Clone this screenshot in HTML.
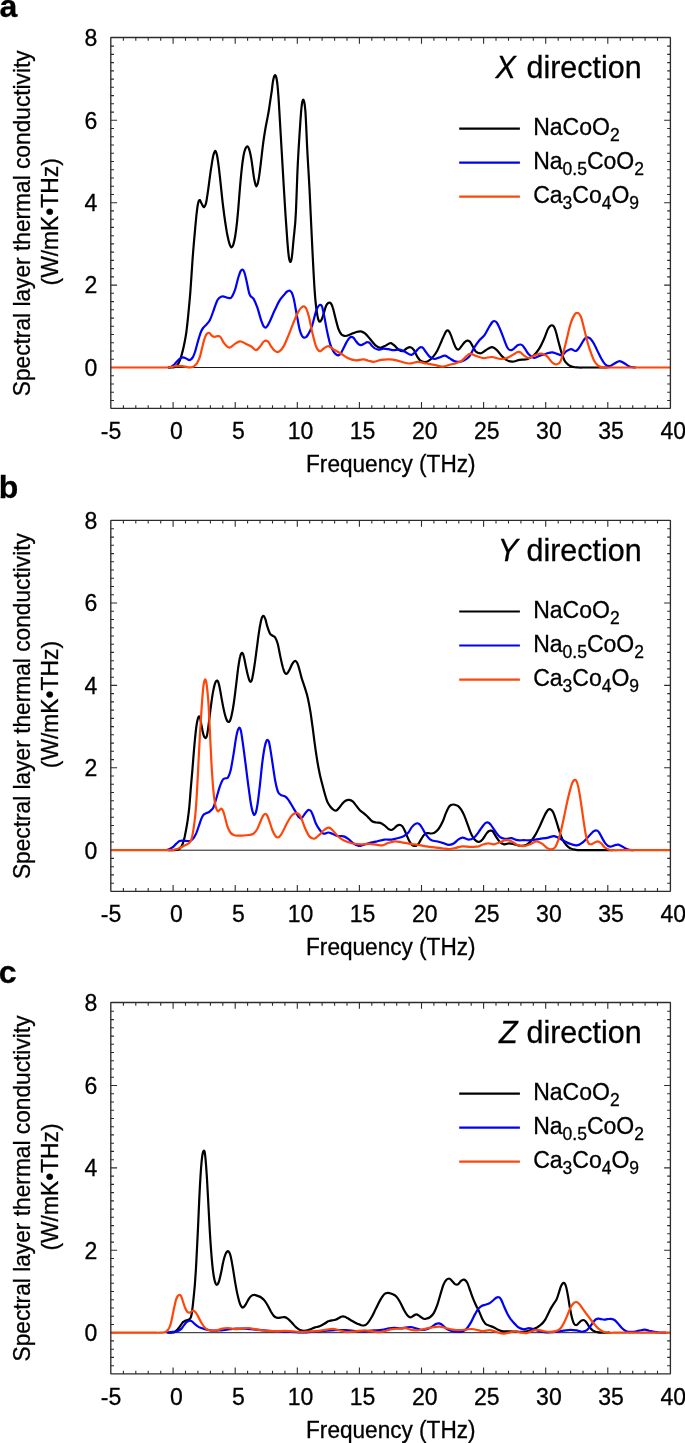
<!DOCTYPE html>
<html lang="en"><head><meta charset="utf-8"><title>Spectral layer thermal conductivity</title>
<style>
html,body{margin:0;padding:0;background:#fff}
body{width:685px;height:1443px;overflow:hidden}
svg{display:block;will-change:transform;opacity:0.9999}
text{font-family:"Liberation Sans",sans-serif;fill:#000;stroke:#000;stroke-width:0.3px}
.tk{font-size:24px}
.ax{font-size:23.5px}
.lg{font-size:23px}
.sb{font-size:17.5px}
.tt{font-size:31.4px}
.pl{font-size:32px;font-weight:bold}
.cv{fill:none;stroke-width:2.2;stroke-linejoin:round;stroke-linecap:butt}
</style></head>
<body>
<svg width="685" height="1443" viewBox="0 0 685 1443">
<rect width="685" height="1443" fill="#fff"/>
<g id="panel-a">
<line x1="110.8" y1="367.5" x2="670.4" y2="367.5" stroke="#000" stroke-width="0.9"/>
<path d="M123.4 408.4v-3.2M123.4 37.5v3.2M135.8 408.4v-3.2M135.8 37.5v3.2M148.2 408.4v-3.2M148.2 37.5v3.2M160.7 408.4v-3.2M160.7 37.5v3.2M173.1 408.4v-6.3M173.1 37.5v6.3M185.5 408.4v-3.2M185.5 37.5v3.2M197.9 408.4v-3.2M197.9 37.5v3.2M210.4 408.4v-3.2M210.4 37.5v3.2M222.8 408.4v-3.2M222.8 37.5v3.2M235.2 408.4v-6.3M235.2 37.5v6.3M247.6 408.4v-3.2M247.6 37.5v3.2M260 408.4v-3.2M260 37.5v3.2M272.5 408.4v-3.2M272.5 37.5v3.2M284.9 408.4v-3.2M284.9 37.5v3.2M297.3 408.4v-6.3M297.3 37.5v6.3M309.7 408.4v-3.2M309.7 37.5v3.2M322.1 408.4v-3.2M322.1 37.5v3.2M334.6 408.4v-3.2M334.6 37.5v3.2M347 408.4v-3.2M347 37.5v3.2M359.4 408.4v-6.3M359.4 37.5v6.3M371.8 408.4v-3.2M371.8 37.5v3.2M384.3 408.4v-3.2M384.3 37.5v3.2M396.7 408.4v-3.2M396.7 37.5v3.2M409.1 408.4v-3.2M409.1 37.5v3.2M421.5 408.4v-6.3M421.5 37.5v6.3M433.9 408.4v-3.2M433.9 37.5v3.2M446.4 408.4v-3.2M446.4 37.5v3.2M458.8 408.4v-3.2M458.8 37.5v3.2M471.2 408.4v-3.2M471.2 37.5v3.2M483.6 408.4v-6.3M483.6 37.5v6.3M496 408.4v-3.2M496 37.5v3.2M508.5 408.4v-3.2M508.5 37.5v3.2M520.9 408.4v-3.2M520.9 37.5v3.2M533.3 408.4v-3.2M533.3 37.5v3.2M545.7 408.4v-6.3M545.7 37.5v6.3M558.2 408.4v-3.2M558.2 37.5v3.2M570.6 408.4v-3.2M570.6 37.5v3.2M583 408.4v-3.2M583 37.5v3.2M595.4 408.4v-3.2M595.4 37.5v3.2M607.8 408.4v-6.3M607.8 37.5v6.3M620.3 408.4v-3.2M620.3 37.5v3.2M632.7 408.4v-3.2M632.7 37.5v3.2M645.1 408.4v-3.2M645.1 37.5v3.2M657.5 408.4v-3.2M657.5 37.5v3.2M110.8 400.5h3.2M670.4 400.5h-3.2M110.8 392.2h3.2M670.4 392.2h-3.2M110.8 384h3.2M670.4 384h-3.2M110.8 375.7h3.2M670.4 375.7h-3.2M110.8 367.5h6.3M670.4 367.5h-6.3M110.8 359.3h3.2M670.4 359.3h-3.2M110.8 351h3.2M670.4 351h-3.2M110.8 342.8h3.2M670.4 342.8h-3.2M110.8 334.5h3.2M670.4 334.5h-3.2M110.8 326.3h3.2M670.4 326.3h-3.2M110.8 318.1h3.2M670.4 318.1h-3.2M110.8 309.8h3.2M670.4 309.8h-3.2M110.8 301.6h3.2M670.4 301.6h-3.2M110.8 293.3h3.2M670.4 293.3h-3.2M110.8 285.1h6.3M670.4 285.1h-6.3M110.8 276.9h3.2M670.4 276.9h-3.2M110.8 268.6h3.2M670.4 268.6h-3.2M110.8 260.4h3.2M670.4 260.4h-3.2M110.8 252.1h3.2M670.4 252.1h-3.2M110.8 243.9h3.2M670.4 243.9h-3.2M110.8 235.7h3.2M670.4 235.7h-3.2M110.8 227.4h3.2M670.4 227.4h-3.2M110.8 219.2h3.2M670.4 219.2h-3.2M110.8 210.9h3.2M670.4 210.9h-3.2M110.8 202.7h6.3M670.4 202.7h-6.3M110.8 194.5h3.2M670.4 194.5h-3.2M110.8 186.2h3.2M670.4 186.2h-3.2M110.8 178h3.2M670.4 178h-3.2M110.8 169.7h3.2M670.4 169.7h-3.2M110.8 161.5h3.2M670.4 161.5h-3.2M110.8 153.3h3.2M670.4 153.3h-3.2M110.8 145h3.2M670.4 145h-3.2M110.8 136.8h3.2M670.4 136.8h-3.2M110.8 128.5h3.2M670.4 128.5h-3.2M110.8 120.3h6.3M670.4 120.3h-6.3M110.8 112.1h3.2M670.4 112.1h-3.2M110.8 103.8h3.2M670.4 103.8h-3.2M110.8 95.6h3.2M670.4 95.6h-3.2M110.8 87.3h3.2M670.4 87.3h-3.2M110.8 79.1h3.2M670.4 79.1h-3.2M110.8 70.9h3.2M670.4 70.9h-3.2M110.8 62.6h3.2M670.4 62.6h-3.2M110.8 54.4h3.2M670.4 54.4h-3.2M110.8 46.1h3.2M670.4 46.1h-3.2" stroke="#2c2c2c" stroke-width="1.1" fill="none"/>
<clipPath id="cp0"><rect x="110.8" y="37.5" width="559.6" height="370.9"/></clipPath>
<g clip-path="url(#cp0)" transform="translate(0 0.3)">
<path class="cv" stroke="#000" d="M168 367.2C169.3 367.2 170.7 367.2 172 367.1C173.2 367 174.3 367.3 175.5 366.5C176.5 365.8 177.6 364.9 178.6 362.9C179.3 361.6 180 359.9 180.7 357.8C181.4 355.8 182 353.3 182.7 350.6C183.4 347.9 184 344.9 184.7 341.4C185.3 338.4 185.8 335.7 186.4 331.5C187 326.8 187.7 320.3 188.3 314C189 307.3 189.6 300.8 190.3 292.4C191 283.1 191.8 269.9 192.5 260C193.3 248.8 194.2 239.1 195 230C195.7 222.7 196.3 215.1 197 210C197.4 206.9 197.8 204.2 198.2 202.5C198.6 200.8 199 200.2 199.4 199.8C200.1 199.2 200.8 202 201.5 203C202.4 204.3 203.3 207.4 204.2 206.8C204.8 206.4 205.4 205.5 206 203C206.5 201 206.9 197.7 207.4 194.8C208.7 186.9 209.9 175.1 211.2 167.3C212 162.6 212.7 157.3 213.5 154.5C214.1 152.4 214.6 150.6 215.2 150.6C215.8 150.6 216.4 152.3 217 155C217.6 157.6 218.1 161.7 218.7 166C219.3 170.6 219.9 176.5 220.5 182C221.1 187.8 221.8 194.5 222.4 200C222.9 204.7 223.5 208.9 224 213C224.5 216.5 224.9 219.9 225.4 223C226.1 227.4 226.7 231.6 227.4 235C228.1 238.5 228.8 241.5 229.5 243.5C230.2 245.5 230.9 247.1 231.6 247C232.2 246.9 232.8 245.9 233.4 244C233.9 242.3 234.5 240.1 235 237C235.4 234.5 235.9 231.5 236.3 228C236.6 225.3 237 222.3 237.3 219C237.6 215.7 238 211.9 238.3 208C238.8 201.8 239.4 194.2 239.9 188C240.5 181 241.1 174.4 241.7 169C242.3 163.3 243 158.5 243.6 155C244.3 151.3 244.9 149.5 245.6 148C246.2 146.7 246.8 145.9 247.4 146.1C248 146.3 248.6 147.2 249.2 149C249.8 150.9 250.5 154 251.1 157.3C252.2 163.1 253.3 174.6 254.4 179.8C254.8 181.7 255.2 183.5 255.6 184.5C255.9 185.4 256.3 186.1 256.6 186C257 185.9 257.4 184.5 257.8 183C258.3 181.1 258.8 178.1 259.3 174.8C259.8 171.5 260.3 167.1 260.8 163C261.6 156.8 262.3 149.3 263.1 143.5C263.9 137.2 264.8 131.9 265.6 127.2C266.1 124.2 266.7 121.8 267.2 119C267.7 116.4 268.2 114 268.7 111C269.3 107.6 269.8 103.3 270.4 99.5C270.9 96.2 271.4 93.2 271.9 89.7C272.2 86.9 272.6 83.2 273 81C273.3 79.3 273.6 78 273.9 77C274.1 76.3 274.3 75.9 274.5 75.5C274.7 75.2 274.9 74.9 275.1 74.9C275.3 74.9 275.5 75.2 275.7 75.6C276 76.1 276.2 76.7 276.5 78C276.8 79.6 277.2 81.8 277.5 85C277.9 88.8 278.3 94.1 278.7 100C279.1 105.9 279.5 113.7 279.9 120.5C280.5 130.7 281.1 140.8 281.7 151C282.3 161.7 283 172.7 283.6 183.3C284.2 193.9 284.9 204.8 285.5 214.5C286.1 223.7 286.7 232.6 287.3 240C287.8 246.6 288.4 253.4 288.9 257C289.4 260.1 289.8 261.6 290.3 261.7C290.8 261.8 291.3 260.2 291.8 257C292.4 253.4 292.9 246.1 293.5 240C294.3 231 295.2 228.3 296 210C296.4 200.5 296.9 185.2 297.3 174.8C298.1 154.8 299 142.5 299.8 129.9C300.4 121.3 300.9 112.5 301.5 107.4C301.8 104.4 302.2 102.1 302.5 100.8C302.8 99.7 303 99.2 303.3 99.2C303.6 99.2 303.9 100 304.2 101.5C304.6 103.3 304.9 105.5 305.3 109.9C306 117.9 306.6 137.2 307.3 149.9C308.1 165.8 309 177.4 309.8 194.8C310 199.7 310.3 205 310.5 210C311.1 222.9 311.7 235.6 312.3 247.4C313.1 263.7 314 281.2 314.8 292.4C315.6 303.6 316.5 310.1 317.3 314.8C317.8 317.5 318.2 319.1 318.7 320.2C319.1 321.2 319.6 321.4 320 321.4C320.5 321.4 321 320.5 321.5 319.5C322 318.5 322.6 316.7 323.1 315.2C324.1 312.3 325.1 307.6 326.1 305.5C326.7 304.2 327.4 303.3 328 302.8C328.5 302.4 329.1 302.2 329.6 302.3C330.1 302.4 330.7 302.7 331.2 303.5C331.7 304.3 332.2 305.5 332.7 307C333.6 309.5 334.4 313.9 335.3 317.2C336.3 321.1 337.4 325.7 338.4 328.5C339.4 331.3 340.5 333 341.5 334.2C342.5 335.3 343.5 335.4 344.5 335.6C346.6 336.1 348.6 334.7 350.7 334C352.4 333.4 354.1 332.4 355.8 331.9C357.5 331.4 359.2 330.8 360.9 331.1C362.3 331.4 363.6 332 365 333C366.7 334.3 368.4 336.7 370.1 338.7C371.8 340.7 373.5 343.3 375.2 344.8C376.9 346.3 378.6 347.4 380.3 347.5C382 347.6 383.7 346.1 385.4 345.4C387.2 344.6 389.1 342.4 390.9 342.8C392.1 343.1 393.4 344.4 394.6 345.4C396 346.6 397.3 348.6 398.7 349.5C400.1 350.4 401.4 351.2 402.8 350.9C404.2 350.6 405.5 348.6 406.9 347.9C408.1 347.3 409.3 346.5 410.5 346.9C411.7 347.2 412.8 348.2 414 349.9C415 351.4 416.1 354.4 417.1 356.1C418.1 357.8 419.1 359.1 420.1 360.1C421.6 361.5 423.1 361.8 424.6 361.8C426.2 361.8 427.7 361.2 429.3 360.1C430.7 359.2 432 357.8 433.4 356.1C434.8 354.4 436.1 352.5 437.5 349.9C438.9 347.3 440.2 343.8 441.6 340.7C442.6 338.4 443.7 335.6 444.7 333.6C445.2 332.6 445.8 331.4 446.3 330.8C446.8 330.3 447.2 330 447.7 330.1C448.2 330.2 448.7 330.6 449.2 331.3C449.7 332.1 450.3 333.4 450.8 334.6C451.7 336.7 452.6 339.7 453.5 342C454.4 344.2 455.2 346.7 456.1 347.9C456.8 348.9 457.5 349.3 458.2 349.3C459.6 349.4 460.9 346.4 462.3 344.8C463.3 343.7 464.3 342 465.3 341.3C466.1 340.7 467 340.2 467.8 340.3C468.5 340.4 469.3 340.7 470 341.5C470.5 342.1 471 343 471.5 343.8C472.8 345.9 474.2 349.3 475.5 350.9C477.1 352.7 478.6 353 480.2 353C482.1 353 483.9 350.9 485.8 349.9C488 348.8 490.1 346.5 492.3 346.9C493.9 347.2 495.4 348.5 497 349.9C498.7 351.5 500.4 354.4 502.1 356.1C503.8 357.8 505.5 359.2 507.2 360.1C508.9 361 510.6 361.3 512.3 361.4C514.7 361.5 517.1 359.9 519.5 359.5C522.2 359 525 359.8 527.7 358.7C529.7 357.9 531.8 356.9 533.8 355C535.5 353.4 537.2 351.6 538.9 348.9C540.6 346.2 542.3 342.6 544 338.7C545.4 335.6 546.7 330.9 548.1 328.5C548.8 327.2 549.6 326.2 550.3 325.6C550.9 325.1 551.6 324.8 552.2 325C552.8 325.1 553.3 325.4 553.9 326.3C554.4 327 554.8 328.2 555.3 329.5C556.3 332.2 557.3 337 558.3 340.7C559.3 344.5 560.4 348.8 561.4 352C562.4 355.2 563.5 358.1 564.5 360.1C565.8 362.7 567.2 363.5 568.5 364.6C569.9 365.7 571.2 366.1 572.6 366.5C574.7 367.2 576.7 367.1 578.8 367.2C580.7 367.3 582.6 367.2 584.4 367.2C586.3 367.2 588.2 367.2 590.1 367.2C592 367.2 593.8 367.2 595.7 367.2C597.6 367.2 599.5 367.2 601.4 367.2C603.2 367.2 605.1 367.2 607 367.2"/>
<path class="cv" stroke="#0000f5" d="M167.8 367.2C168.7 367.1 169.5 367.2 170.4 366.9C171.8 366.4 173.1 365.2 174.5 363.9C175.5 362.9 176.6 361.4 177.6 360.4C178.6 359.4 179.7 358.4 180.7 357.8C181.4 357.4 182 357.2 182.7 357.1C183.7 357 184.8 357.6 185.8 358C187.2 358.5 188.5 360.3 189.9 359.8C190.9 359.4 191.9 358.6 192.9 356.8C193.6 355.5 194.3 353.8 195 351.7C195.7 349.7 196.3 346.9 197 344.5C197.7 342.1 198.3 339.6 199 337.4C199.7 335.1 200.4 332.8 201.1 331.2C201.8 329.6 202.4 328.7 203.1 327.7C204.1 326.3 205 325.7 206 324.6C207.3 323.1 208.6 322.3 209.9 319.8C211.2 317.3 212.4 313.2 213.7 309.8C214.9 306.5 216.2 302.1 217.4 299.9C218.3 298.4 219.1 297.6 220 297C220.8 296.4 221.6 296.2 222.4 296.1C224.1 295.8 225.7 297.2 227.4 297.4C228.6 297.5 229.9 298.6 231.1 297.4C232.4 296.2 233.6 293.5 234.9 289.9C236.1 286.4 237.4 280 238.6 276.2C239.3 274.2 239.9 272 240.6 270.8C241.2 269.8 241.8 269.1 242.4 269.2C243 269.3 243.6 270 244.2 271.5C244.8 273.1 245.5 276 246.1 278.6C247.2 283 248.3 290.2 249.4 293.6C250.8 297.9 252.2 296.1 253.6 298.6C254.9 300.9 256.1 303.8 257.4 307.4C258.6 310.9 259.9 316.3 261.1 319.8C261.9 322 262.6 324.2 263.4 325.5C264 326.5 264.7 327.2 265.3 327.3C266 327.4 266.8 326.5 267.5 325.5C268.3 324.5 269 322.7 269.8 321.1C271.5 317.7 273.1 313.3 274.8 309.8C276.5 306.3 278.1 302.6 279.8 299.9C281.5 297.2 283.1 295.4 284.8 293.6C285.7 292.6 286.6 291.5 287.5 291C288.3 290.6 289 290.1 289.8 290.4C290.5 290.7 291.1 291.1 291.8 292.5C292.4 293.7 292.9 295.3 293.5 297.4C294.6 301.5 295.7 309.2 296.8 314.8C297.8 319.9 298.8 326.2 299.8 329.8C300.5 332.4 301.3 334.2 302 335.5C302.7 336.6 303.3 337.1 304 337.3C304.8 337.5 305.5 337.1 306.3 336.5C307 335.9 307.8 334.8 308.5 333.6C309.8 331.5 311 328.6 312.3 324.8C313.5 321.1 314.8 314.5 316 311.1C316.7 309.1 317.5 307.3 318.2 306.2C318.8 305.3 319.4 304.7 320 304.6C320.7 304.5 321.3 304.3 322 306C322.7 307.7 323.4 311.9 324.1 315.2C325.1 320.1 326.2 326.7 327.2 331.5C328.2 336.2 329.2 340.6 330.2 343.8C331.2 347.1 332.3 349.2 333.3 350.9C334.2 352.4 335.1 353.3 336 354C336.8 354.6 337.6 355.1 338.4 355C339.1 354.9 339.8 354.4 340.5 353.5C341.2 352.7 341.8 351.1 342.5 349.9C343.9 347.4 345.2 344.1 346.6 341.8C347.6 340.2 348.5 338.3 349.5 337.5C350.2 336.9 351 336.5 351.7 336.6C352.4 336.7 353.1 337.1 353.8 337.8C354.5 338.5 355.1 339.8 355.8 340.7C356.7 341.9 357.6 343.1 358.5 343.8C359.3 344.4 360.1 344.8 360.9 344.8C361.9 344.9 363 344 364 343.5C365.1 343 366.3 341.7 367.4 341.8C368.3 341.8 369.1 342.2 370 343C370.7 343.7 371.4 345 372.1 345.8C374.1 348.1 376.2 349 378.2 349.3C379.9 349.6 381.7 348.4 383.4 348.3C385.1 348.2 386.8 348.6 388.5 348.9C390.2 349.2 391.9 349.8 393.6 349.9C395.6 350 397.7 349 399.7 349.3C401.7 349.7 403.8 351.1 405.8 352C407.7 352.9 409.7 355.1 411.6 354.6C413.1 354.2 414.6 352.4 416.1 350.9C417.1 350 418 348.5 419 347.8C419.7 347.3 420.5 346.8 421.2 346.9C421.9 346.9 422.6 347.3 423.3 348C424 348.7 424.6 350 425.3 350.9C426.6 352.8 428 354.8 429.3 356.1C431 357.7 432.7 358.5 434.4 358.7C436.1 358.9 437.9 357.6 439.6 357.1C441.4 356.5 443.3 355.1 445.1 355.4C446.7 355.7 448.2 357.2 449.8 358.1C451.2 359 452.7 360.2 454.1 360.8C455.5 361.4 456.8 361.6 458.2 361.6C460.2 361.6 462.3 361.2 464.3 360.1C466 359.2 467.7 358.3 469.4 356.1C471.1 353.9 472.8 349.6 474.5 346.9C476.2 344.2 477.9 341.8 479.6 339.7C481.3 337.7 483 336.9 484.7 334.6C486.4 332.2 488.2 328.1 489.9 325.4C490.7 324.1 491.5 322.6 492.3 321.8C493 321.1 493.6 320.7 494.3 320.7C495 320.7 495.8 321.2 496.5 322C497.3 322.9 498.2 324.7 499 326.4C500.4 329.2 501.7 333.2 503.1 336.6C504.5 340 505.8 344.6 507.2 346.9C507.9 348 508.5 348.9 509.2 349.4C509.8 349.8 510.3 349.9 510.9 349.9C511.6 349.9 512.3 349.4 513 349C513.8 348.5 514.6 347.6 515.4 346.9C516.3 346.2 517.1 345.2 518 344.8C518.8 344.4 519.7 344.1 520.5 344.2C521.2 344.3 521.9 344.6 522.6 345.2C523.3 345.8 523.9 347 524.6 347.9C526 349.8 527.3 352.5 528.7 354C530.4 355.9 532.1 357.1 533.8 357.5C535.8 357.9 537.9 356.1 539.9 355.4C542 354.7 544 354 546.1 353.4C548.1 352.8 550.2 351.9 552.2 352C553.9 352.1 555.6 353.1 557.3 353.6C558.9 354.1 560.4 355.5 562 355C563.5 354.5 565 351.9 566.5 350.9C568 349.9 569.5 349.1 571 348.9C572.8 348.7 574.5 351.5 576.3 350.5C577.8 349.7 579.3 347.1 580.8 344.8C581.8 343.3 582.8 341 583.8 339.7C584.5 338.7 585.3 337.9 586 337.5C586.6 337.1 587.3 336.9 587.9 337C588.7 337.1 589.5 337.6 590.3 338.3C591.2 339.1 592.1 340.4 593 341.8C594.4 343.9 595.7 347.2 597.1 349.9C598.5 352.6 599.8 355.7 601.2 358.1C602.6 360.5 603.9 362.9 605.3 364.2C606.7 365.5 608 365.9 609.4 365.9C611.1 365.9 612.8 364 614.5 363.2C616.2 362.4 617.9 360.8 619.6 360.8C621.3 360.8 623 362.2 624.7 363.2C626.1 364 627.4 365.3 628.8 365.9C630.5 366.7 632.2 366.9 633.9 367.1C634.6 367.2 635.3 367.2 636 367.2"/>
<path class="cv" stroke="#ff4608" d="M110.8 367.2C112.6 367.2 114.4 367.2 116.3 367.2C118.1 367.2 119.9 367.2 121.7 367.2C123.6 367.2 125.4 367.2 127.2 367.2C129 367.2 130.8 367.2 132.7 367.2C134.5 367.2 136.3 367.2 138.1 367.2C140 367.2 141.8 367.2 143.6 367.2C145.4 367.2 147.2 367.2 149.1 367.2C150.9 367.2 152.7 367.2 154.5 367.2C156.4 367.2 158.2 367.2 160 367.2C162.8 367.2 165.6 367.3 168.4 367C169.9 366.8 171.5 366.6 173 366.3C174.5 366.1 176.1 365.6 177.6 365.5C179.6 365.4 181.7 365.8 183.7 366C186.1 366.3 188.5 367.5 190.9 367C191.9 366.8 192.9 366.7 193.9 366C194.9 365.3 196 364.6 197 362.9C198 361.2 199.1 359.3 200.1 355.8C200.8 353.5 201.4 350.3 202.1 347.6C202.8 344.8 203.5 341.6 204.2 339.4C204.9 337.3 205.5 335.4 206.2 334.3C206.7 333.5 207.1 333.2 207.6 332.9C208 332.6 208.4 332.4 208.8 332.5C209.2 332.6 209.6 332.8 210 333.2C210.4 333.6 210.9 334.4 211.3 334.8C212.2 335.7 213 336.2 213.9 336.5C215.1 336.8 216.2 335.8 217.4 335.8C218.3 335.8 219.1 335.5 220 336.2C221.2 337.2 222.5 340.6 223.7 342.3C225.6 344.9 227.5 347.1 229.4 347.3C231.2 347.5 233.1 344.7 234.9 343.6C236.6 342.6 238.2 341.3 239.9 341.1C242 340.9 244 342.7 246.1 343.6C247.8 344.3 249.4 345 251.1 346C252.8 347 254.4 350 256.1 349.8C257.8 349.6 259.4 346.8 261.1 344.8C262 343.7 262.9 341.9 263.8 341.2C264.6 340.6 265.3 340.2 266.1 340.3C266.9 340.4 267.7 340.9 268.5 341.8C269.4 342.8 270.2 344.7 271.1 346C272.2 347.6 273.4 349.2 274.5 350.2C275.6 351.1 276.7 351.9 277.8 351.8C278.8 351.7 279.7 351 280.7 350C281.7 349 282.6 347.6 283.6 346C285.3 343.2 286.9 338.8 288.6 334.8C290.2 330.9 291.9 326.2 293.5 322.3C295.2 318.3 296.8 313.9 298.5 311.1C299.5 309.4 300.5 308 301.5 307.2C302.3 306.5 303.2 305.8 304 306.1C304.7 306.3 305.5 306.8 306.2 308.2C307 309.6 307.7 312.1 308.5 314.8C309.8 319.3 311 327 312.3 332.3C313.5 337.4 314.8 342.9 316 346C317.3 349.2 318.5 350.5 319.8 351C321.2 351.5 322.7 348.8 324.1 347.9C325.5 347.1 326.8 345.8 328.2 345.8C329.9 345.8 331.6 347.9 333.3 348.9C335.7 350.3 338 351.5 340.4 353C342.8 354.5 345.2 356.5 347.6 357.7C350.3 359 353.1 359.9 355.8 360.1C358.3 360.3 360.8 358.9 363.3 359.1C365 359.3 366.7 359.9 368.4 360.4C370.1 360.8 371.8 361.5 373.5 361.6C376.1 361.7 378.7 359.9 381.3 359.5C384 359.1 386.8 359 389.5 359.1C391.9 359.2 394.2 359.6 396.6 360.1C399 360.6 401.4 361.6 403.8 362.2C405.5 362.6 407.2 363.1 408.9 363.2C412 363.4 415 361.5 418.1 361.6C420.8 361.7 423.6 362.7 426.3 363.2C429 363.7 431.7 364.1 434.4 364.6C437.1 365.1 439.9 366.4 442.6 366.3C445.3 366.2 448.1 364.9 450.8 364.2C452.6 363.7 454.3 363.4 456.1 362.8C457.8 362.2 459.5 361.9 461.2 360.8C462.6 359.9 463.9 358.4 465.3 357.1C466.2 356.3 467.1 355.1 468 354.5C468.8 354 469.6 353.7 470.4 353.6C472.1 353.4 473.8 354.8 475.5 355.4C477.9 356.2 480.3 357.4 482.7 357.7C485.8 358.1 488.8 356.5 491.9 356.7C495 356.9 498 358.8 501.1 358.7C503.5 358.6 505.8 358.1 508.2 357.1C510.3 356.3 512.3 354.9 514.4 353.6C515.2 353.1 516 352.3 516.8 352C517.5 351.7 518.2 351.5 518.9 351.6C519.5 351.7 520.2 351.9 520.8 352.3C521.4 352.7 522 353.5 522.6 354C524.6 355.8 526.7 357.5 528.7 357.7C530.7 357.9 532.8 355.7 534.8 355C537.2 354.2 539.6 352.9 542 353.4C543.7 353.8 545.4 354.6 547.1 356.1C548.8 357.6 550.5 360.8 552.2 362.2C553.6 363.3 554.9 364.4 556.3 364.2C557.7 364 559 364 560.4 361.2C561.4 359.1 562.4 355.5 563.4 352C564.4 348.4 565.5 343.8 566.5 339.7C567.9 334.3 569.2 327.6 570.6 323.4C572 319.1 573.3 316.1 574.7 314.2C575.1 313.6 575.6 313.1 576 312.8C576.4 312.5 576.9 312.5 577.3 312.5C577.8 312.5 578.3 312.7 578.8 313.2C579.5 313.8 580.1 314.6 580.8 316.2C581.8 318.6 582.9 323.4 583.9 327.4C584.9 331.3 585.9 336 586.9 339.7C587.9 343.5 589 346.8 590 349.9C591.3 353.9 592.7 357.5 594 360.1C595.4 362.7 596.7 364.1 598.1 365.3C599.8 366.8 601.5 366.7 603.2 367.1C605.5 367.6 607.7 367.2 610 367.2C611.7 367.2 613.4 367.2 615 367.2C616.7 367.2 618.4 367.2 620.1 367.2C621.7 367.2 623.4 367.2 625.1 367.2C626.8 367.2 628.5 367.2 630.1 367.2C631.8 367.2 633.5 367.2 635.2 367.2C636.8 367.2 638.5 367.2 640.2 367.2C641.9 367.2 643.6 367.2 645.2 367.2C646.9 367.2 648.6 367.2 650.3 367.2C651.9 367.2 653.6 367.2 655.3 367.2C657 367.2 658.7 367.2 660.3 367.2C662 367.2 663.7 367.2 665.4 367.2C667 367.2 668.7 367.2 670.4 367.2"/>
</g>
<rect x="110.8" y="37.5" width="559.6" height="370.9" rx="0.3" fill="none" stroke="#2c2c2c" stroke-width="1.35"/>
<text class="tk" transform="translate(97.4 375.8) scale(0.96 1)" text-anchor="end">0</text>
<text class="tk" transform="translate(97.4 293.4) scale(0.96 1)" text-anchor="end">2</text>
<text class="tk" transform="translate(97.4 211) scale(0.96 1)" text-anchor="end">4</text>
<text class="tk" transform="translate(97.4 128.6) scale(0.96 1)" text-anchor="end">6</text>
<text class="tk" transform="translate(97.4 46.2) scale(0.96 1)" text-anchor="end">8</text>
<text class="tk" transform="translate(111 439.1) scale(0.96 1)" text-anchor="middle">-5</text>
<text class="tk" transform="translate(176.3 439.1) scale(0.96 1)" text-anchor="middle">0</text>
<text class="tk" transform="translate(238.4 439.1) scale(0.96 1)" text-anchor="middle">5</text>
<text class="tk" transform="translate(300.5 439.1) scale(0.96 1)" text-anchor="middle">10</text>
<text class="tk" transform="translate(362.6 439.1) scale(0.96 1)" text-anchor="middle">15</text>
<text class="tk" transform="translate(424.7 439.1) scale(0.96 1)" text-anchor="middle">20</text>
<text class="tk" transform="translate(486.8 439.1) scale(0.96 1)" text-anchor="middle">25</text>
<text class="tk" transform="translate(548.9 439.1) scale(0.96 1)" text-anchor="middle">30</text>
<text class="tk" transform="translate(611 439.1) scale(0.96 1)" text-anchor="middle">35</text>
<text class="tk" transform="translate(673.2 439.1) scale(0.96 1)" text-anchor="middle">40</text>
<text class="ax" transform="translate(390.8 472.3) scale(0.962 1)" text-anchor="middle">Frequency (THz)</text>
<text class="ax" transform="translate(29.5 223.3) rotate(-90) scale(0.967 1)" text-anchor="middle">Spectral layer thermal conductivity</text>
<text class="ax" transform="translate(57.6 221.8) rotate(-90) scale(0.972 1)" text-anchor="middle">(W/mK•THz)</text>
<text class="tt" transform="translate(641.6 77.8) scale(0.97 1)" text-anchor="end"><tspan font-style="italic">X</tspan><tspan dx="2.2"> direction</tspan></text>
<line x1="459.2" y1="128.6" x2="519.9" y2="128.6" stroke="#000" stroke-width="2.2"/>
<line x1="459.2" y1="162.6" x2="519.9" y2="162.6" stroke="#0000f5" stroke-width="2.2"/>
<line x1="459.2" y1="196.7" x2="519.9" y2="196.7" stroke="#ff4608" stroke-width="2.2"/>
<text class="lg" x="533.2" y="134.7">NaCoO<tspan class="sb" dy="6.3">2</tspan></text>
<text class="lg" x="533.2" y="168.7">Na<tspan class="sb" dy="6.3">0.5</tspan><tspan dy="-6.3">CoO</tspan><tspan class="sb" dy="6.3">2</tspan></text>
<text class="lg" x="533.2" y="202.8">Ca<tspan class="sb" dy="6.3">3</tspan><tspan dy="-6.3">Co</tspan><tspan class="sb" dy="6.3">4</tspan><tspan dy="-6.3">O</tspan><tspan class="sb" dy="6.3">9</tspan></text>
<text class="pl" x="-0.6" y="17.3">a</text>
</g>
<g id="panel-b">
<line x1="110.8" y1="850.2" x2="670.4" y2="850.2" stroke="#000" stroke-width="0.9"/>
<path d="M123.4 891.3v-3.2M123.4 520.4v3.2M135.8 891.3v-3.2M135.8 520.4v3.2M148.2 891.3v-3.2M148.2 520.4v3.2M160.7 891.3v-3.2M160.7 520.4v3.2M173.1 891.3v-6.3M173.1 520.4v6.3M185.5 891.3v-3.2M185.5 520.4v3.2M197.9 891.3v-3.2M197.9 520.4v3.2M210.4 891.3v-3.2M210.4 520.4v3.2M222.8 891.3v-3.2M222.8 520.4v3.2M235.2 891.3v-6.3M235.2 520.4v6.3M247.6 891.3v-3.2M247.6 520.4v3.2M260 891.3v-3.2M260 520.4v3.2M272.5 891.3v-3.2M272.5 520.4v3.2M284.9 891.3v-3.2M284.9 520.4v3.2M297.3 891.3v-6.3M297.3 520.4v6.3M309.7 891.3v-3.2M309.7 520.4v3.2M322.1 891.3v-3.2M322.1 520.4v3.2M334.6 891.3v-3.2M334.6 520.4v3.2M347 891.3v-3.2M347 520.4v3.2M359.4 891.3v-6.3M359.4 520.4v6.3M371.8 891.3v-3.2M371.8 520.4v3.2M384.3 891.3v-3.2M384.3 520.4v3.2M396.7 891.3v-3.2M396.7 520.4v3.2M409.1 891.3v-3.2M409.1 520.4v3.2M421.5 891.3v-6.3M421.5 520.4v6.3M433.9 891.3v-3.2M433.9 520.4v3.2M446.4 891.3v-3.2M446.4 520.4v3.2M458.8 891.3v-3.2M458.8 520.4v3.2M471.2 891.3v-3.2M471.2 520.4v3.2M483.6 891.3v-6.3M483.6 520.4v6.3M496 891.3v-3.2M496 520.4v3.2M508.5 891.3v-3.2M508.5 520.4v3.2M520.9 891.3v-3.2M520.9 520.4v3.2M533.3 891.3v-3.2M533.3 520.4v3.2M545.7 891.3v-6.3M545.7 520.4v6.3M558.2 891.3v-3.2M558.2 520.4v3.2M570.6 891.3v-3.2M570.6 520.4v3.2M583 891.3v-3.2M583 520.4v3.2M595.4 891.3v-3.2M595.4 520.4v3.2M607.8 891.3v-6.3M607.8 520.4v6.3M620.3 891.3v-3.2M620.3 520.4v3.2M632.7 891.3v-3.2M632.7 520.4v3.2M645.1 891.3v-3.2M645.1 520.4v3.2M657.5 891.3v-3.2M657.5 520.4v3.2M110.8 883.2h3.2M670.4 883.2h-3.2M110.8 874.9h3.2M670.4 874.9h-3.2M110.8 866.7h3.2M670.4 866.7h-3.2M110.8 858.4h3.2M670.4 858.4h-3.2M110.8 850.2h6.3M670.4 850.2h-6.3M110.8 842h3.2M670.4 842h-3.2M110.8 833.7h3.2M670.4 833.7h-3.2M110.8 825.5h3.2M670.4 825.5h-3.2M110.8 817.2h3.2M670.4 817.2h-3.2M110.8 809h3.2M670.4 809h-3.2M110.8 800.8h3.2M670.4 800.8h-3.2M110.8 792.5h3.2M670.4 792.5h-3.2M110.8 784.3h3.2M670.4 784.3h-3.2M110.8 776h3.2M670.4 776h-3.2M110.8 767.8h6.3M670.4 767.8h-6.3M110.8 759.6h3.2M670.4 759.6h-3.2M110.8 751.3h3.2M670.4 751.3h-3.2M110.8 743.1h3.2M670.4 743.1h-3.2M110.8 734.8h3.2M670.4 734.8h-3.2M110.8 726.6h3.2M670.4 726.6h-3.2M110.8 718.4h3.2M670.4 718.4h-3.2M110.8 710.1h3.2M670.4 710.1h-3.2M110.8 701.9h3.2M670.4 701.9h-3.2M110.8 693.6h3.2M670.4 693.6h-3.2M110.8 685.4h6.3M670.4 685.4h-6.3M110.8 677.2h3.2M670.4 677.2h-3.2M110.8 668.9h3.2M670.4 668.9h-3.2M110.8 660.7h3.2M670.4 660.7h-3.2M110.8 652.4h3.2M670.4 652.4h-3.2M110.8 644.2h3.2M670.4 644.2h-3.2M110.8 636h3.2M670.4 636h-3.2M110.8 627.7h3.2M670.4 627.7h-3.2M110.8 619.5h3.2M670.4 619.5h-3.2M110.8 611.2h3.2M670.4 611.2h-3.2M110.8 603h6.3M670.4 603h-6.3M110.8 594.8h3.2M670.4 594.8h-3.2M110.8 586.5h3.2M670.4 586.5h-3.2M110.8 578.3h3.2M670.4 578.3h-3.2M110.8 570h3.2M670.4 570h-3.2M110.8 561.8h3.2M670.4 561.8h-3.2M110.8 553.6h3.2M670.4 553.6h-3.2M110.8 545.3h3.2M670.4 545.3h-3.2M110.8 537.1h3.2M670.4 537.1h-3.2M110.8 528.8h3.2M670.4 528.8h-3.2" stroke="#2c2c2c" stroke-width="1.1" fill="none"/>
<clipPath id="cp1"><rect x="110.8" y="520.4" width="559.6" height="370.9"/></clipPath>
<g clip-path="url(#cp1)" transform="translate(0 0.2)">
<path class="cv" stroke="#000" d="M168 850C169.3 850 170.7 850 172 850C173.3 850 174.7 850 176 849.7C177.2 849.5 178.4 849.8 179.6 848.6C180.6 847.6 181.7 846.6 182.7 843.7C183.4 841.8 184 839.5 184.7 836.5C185.2 834.1 185.8 831.3 186.3 828.3C186.8 825.5 187.3 822.6 187.8 819.1C188.3 815.6 188.8 812.3 189.3 807C189.7 802.4 190.2 795.8 190.6 790.5C191.2 782.7 191.9 776.1 192.5 768.5C193.1 760.9 193.8 751.8 194.4 744.9C195.2 736.5 195.9 728.8 196.7 724C197.1 721.3 197.6 719.3 198 718C198.4 716.8 198.8 715.9 199.2 716.1C199.6 716.2 199.9 717 200.3 718.5C200.7 719.9 201 722.8 201.4 724.8C202.1 728.4 202.7 732.1 203.4 734.3C203.8 735.6 204.2 736.6 204.6 737.2C205 737.7 205.3 738 205.7 737.8C206.1 737.6 206.4 737.3 206.8 736C207.2 734.7 207.5 732.1 207.9 729.8C208.7 724.5 209.6 716 210.4 709.8C211.2 703.6 212.1 697 212.9 692.4C213.6 688.7 214.2 685.6 214.9 683.6C215.3 682.4 215.7 681.5 216.1 681C216.5 680.5 216.8 680.2 217.2 680.4C217.6 680.6 217.9 681 218.3 682C218.7 683 219 684.5 219.4 686.1C220.2 689.7 221.1 695.5 221.9 699.9C222.7 704.3 223.6 708.9 224.4 712.3C225.1 715.3 225.9 718 226.6 719.6C227 720.5 227.4 721 227.8 721.4C228.2 721.7 228.5 721.9 228.9 721.8C229.3 721.6 229.7 721.2 230.1 720.3C230.5 719.3 231 717.8 231.4 716.1C232.2 712.8 233.1 707.9 233.9 702.3C234.7 696.7 235.6 689.1 236.4 682.4C237.1 677 237.7 670.7 238.4 666.2C239 662.4 239.5 658.9 240.1 656.6C240.4 655.3 240.8 654.2 241.1 653.6C241.4 653 241.8 652.6 242.1 652.7C242.4 652.8 242.8 653.2 243.1 654C243.4 654.8 243.8 656.1 244.1 657.4C244.8 660 245.4 664.3 246.1 667.4C246.8 670.5 247.4 673.7 248.1 676.1C248.5 677.7 249 679.3 249.4 680.2C249.8 681 250.2 681.6 250.6 681.6C251 681.6 251.4 681.2 251.8 680C252.2 678.9 252.5 676.8 252.9 674.9C253.6 671.4 254.2 667 254.9 662.4C255.6 657.8 256.2 652.4 256.9 647.4C257.6 642.4 258.2 636.9 258.9 632.5C259.5 628.3 260.2 624.4 260.8 621.6C261.2 619.7 261.7 618 262.1 617C262.5 616.1 262.9 615.7 263.3 615.7C263.6 615.7 264 616 264.3 616.5C264.6 617 265 617.8 265.3 618.7C266 620.5 266.6 624 267.3 626.2C268.1 628.9 269 631.4 269.8 633C270.8 634.9 271.8 634.8 272.8 635.6C273.6 636.3 274.5 636.1 275.3 637.5C276.1 638.9 277 640.6 277.8 643.7C278.6 646.8 279.5 652.3 280.3 656.2C281.1 660.1 282 664.1 282.8 667C283.4 669 283.9 670.9 284.5 672C285 673 285.6 673.5 286.1 673.6C286.6 673.7 287.2 673.1 287.7 672.5C288.2 671.9 288.8 670.8 289.3 669.9C290.3 668.1 291.3 665.3 292.3 663.7C292.9 662.8 293.4 661.8 294 661.3C294.5 660.9 295 660.5 295.5 660.7C296 660.9 296.5 661.4 297 662.3C297.5 663.2 298 664.7 298.5 666.2C299.5 669.2 300.5 674 301.5 677.4C302.6 681.1 303.7 683.8 304.8 687.4C305.8 690.7 306.8 693.3 307.8 697.8C308.6 701.5 309.5 705.9 310.3 711C311.1 715.7 311.8 721.4 312.6 727C313.4 732.9 314.2 739.8 315 745.5C315.8 751.5 316.7 757.1 317.5 762C318.3 766.9 319.2 771.2 320 775C320.7 778 321.3 780.4 322 783C322.7 785.7 323.4 788.5 324.1 791C325.1 794.7 326.2 798.6 327.2 801.2C328.2 803.7 329.2 804.9 330.2 806.3C331.2 807.7 332.3 808.7 333.3 809.4C334.3 810.1 335.4 810.8 336.4 810.4C337.4 810 338.4 808.5 339.4 807.3C340.4 806.1 341.5 804.3 342.5 803.2C343.5 802.1 344.5 801.2 345.5 800.6C346.7 799.9 348 799.5 349.2 799.6C350.4 799.7 351.5 800.2 352.7 801.2C353.7 802.1 354.8 803.6 355.8 804.9C357.2 806.6 358.5 808.6 359.9 810C361.2 811.3 362.6 812 363.9 813.1C365.3 814.3 366.6 815.6 368 816.9C369.4 818.2 370.7 820.1 372.1 821C373.5 821.9 374.8 822 376.2 822.3C377.6 822.6 378.9 822.2 380.3 822.7C381.7 823.2 383 824.1 384.4 825.1C385.8 826.1 387.1 828 388.5 828.8C389.5 829.4 390.5 829.9 391.5 829.8C392.5 829.6 393.6 828.6 394.6 827.8C395.4 827.1 396.2 826 397 825.5C397.8 825 398.5 824.7 399.3 824.7C399.9 824.7 400.6 824.8 401.2 825.2C401.7 825.5 402.3 826 402.8 826.7C403.8 828 404.8 830.7 405.8 832.9C406.8 835.1 407.9 838 408.9 840C409.9 842 411 843.8 412 844.7C412.5 845.2 413.1 845.4 413.6 845.6C414.1 845.8 414.5 845.8 415 845.8C415.5 845.8 416 845.7 416.5 845.4C417 845.1 417.6 844.7 418.1 844.1C419.1 843 420.2 840.6 421.2 839C422.2 837.4 423.2 835.5 424.2 834.5C425.2 833.5 426.3 833.2 427.3 832.9C428.7 832.6 430 833.5 431.4 833.3C432.4 833.2 433.4 833 434.4 832.5C435.8 831.8 437.1 830.6 438.5 828.8C439.9 827 441.2 824.7 442.6 821.6C443.6 819.3 444.7 815.9 445.7 813.5C446.7 811 447.8 808.4 448.8 806.9C449.5 805.8 450.3 805.2 451 804.8C451.7 804.4 452.5 804.3 453.2 804.3C454 804.3 454.7 804.6 455.5 804.8C456.4 805.1 457.3 805.2 458.2 805.9C459.2 806.7 460.2 807.8 461.2 809.4C462.2 811 463.3 813.1 464.3 815.5C465.3 817.9 466.4 820.9 467.4 823.7C468.4 826.4 469.4 829.5 470.4 831.9C471.4 834.3 472.5 836.5 473.5 838C474.5 839.5 475.6 840.5 476.6 841.1C477.6 841.7 478.6 841.8 479.6 841.5C480.6 841.2 481.7 840.1 482.7 839C484.1 837.5 485.4 834.5 486.8 832.9C487.5 832.1 488.3 831.2 489 830.8C489.6 830.4 490.3 830.3 490.9 830.4C491.4 830.5 492 830.5 492.5 831C493 831.4 493.4 832.2 493.9 832.9C494.9 834.4 496 836.5 497 838C498 839.5 499.1 841.1 500.1 842.1C501.5 843.4 502.8 843.8 504.2 844.1C505.9 844.4 507.6 843.1 509.3 843.1C511 843.1 512.7 843.7 514.4 844.1C516.4 844.5 518.5 845.5 520.5 845.6C522.5 845.7 524.6 845.6 526.6 844.5C528.3 843.5 530 842.1 531.7 840C533.1 838.3 534.4 836.3 535.8 833.9C537.2 831.5 538.5 828.6 539.9 825.7C541.3 822.8 542.6 819.3 544 816.5C545 814.4 546.1 812.2 547.1 810.8C547.6 810.2 548 809.6 548.5 809.3C548.9 809 549.3 809 549.7 809C550.2 809 550.7 809.2 551.2 809.6C551.7 810 552.3 810.5 552.8 811.4C553.8 813.1 554.9 816.5 555.9 819.6C557 822.9 558.2 827.5 559.3 830.8C560.3 833.9 561.4 836.8 562.4 839C563.8 841.9 565.1 843.6 566.5 845.1C567.9 846.6 569.2 847.5 570.6 848.2C572.3 849.1 574 849.3 575.7 849.6C578.1 850 580.4 849.9 582.8 850C584.5 850 586.2 850 587.8 850C589.5 850 591.2 850 592.9 850C594.5 850 596.2 850 597.9 850C599.6 850 601.3 850 602.9 850C604.6 850 606.3 850 608 850C609.6 850 611.3 850 613 850"/>
<path class="cv" stroke="#0000f5" d="M165.8 850C166.7 849.8 167.5 849.6 168.4 849.3C169.8 848.8 171.1 848.2 172.5 847.2C173.9 846.2 175.2 844.4 176.6 843.2C177.6 842.3 178.6 841.3 179.6 840.8C181 840.1 182.3 840.4 183.7 840.4C185.1 840.4 186.4 840.8 187.8 840.8C188.8 840.8 189.9 841 190.9 840.4C191.9 839.8 192.9 839 193.9 837.5C194.8 836.2 195.6 834.5 196.5 832.4C197.3 830.4 198.2 827.7 199 825.3C199.7 823.3 200.4 820.8 201.1 819.1C201.8 817.5 202.4 816.1 203.1 815.1C204 813.8 204.8 813.7 205.7 813.2C206.7 812.6 207.8 812.7 208.8 812C209.6 811.5 210.5 810.8 211.3 809.9C212 809.2 212.7 808.7 213.4 807.3C214.3 805.4 215.3 801.6 216.2 798.6C217.4 794.6 218.7 789.5 219.9 786.1C220.9 783.4 221.9 780.7 222.9 779.4C223.7 778.3 224.6 778.4 225.4 778.1C226.2 777.8 227.1 778.6 227.9 777.4C228.7 776.2 229.6 774.3 230.4 771.1C231.5 767 232.5 760.1 233.6 753.7C234.4 748.7 235.3 741.7 236.1 737.4C236.7 734.1 237.4 731.1 238 729.5C238.5 728.3 238.9 727.4 239.4 727.5C239.9 727.6 240.3 728.2 240.8 730C241.3 732 241.9 736.4 242.4 739.9C243.4 746.5 244.4 754.7 245.4 762.4C246.5 770.6 247.5 779.6 248.6 787.4C249.4 793.5 250.3 800.3 251.1 804.8C251.7 808.2 252.4 811.1 253 812.8C253.5 814 253.9 814.8 254.4 814.8C254.9 814.8 255.3 814 255.8 812.5C256.3 810.8 256.9 808 257.4 804.8C258.2 799.8 259.1 792.1 259.9 784.9C260.7 778 261.5 768.8 262.3 762.4C263.1 755.8 264 750 264.8 746.2C265.3 743.9 265.8 742.1 266.3 741C266.7 740.1 267.2 739.7 267.6 739.8C268 739.9 268.5 740.1 268.9 741.5C269.4 743 269.8 746.1 270.3 748.7C271.1 753.4 272 759.5 272.8 764.9C273.6 770.3 274.5 776.7 275.3 781.1C276.1 785.5 277 788.8 277.8 791.1C278.9 794.1 280 794.1 281.1 794.9C282.3 795.8 283.6 795.3 284.8 796.1C286.1 796.9 287.3 798.2 288.6 799.9C289.8 801.6 291.1 804 292.3 806.1C293.5 808.2 294.8 810.2 296 812.3C296.8 813.7 297.7 815.5 298.5 816.5C299.2 817.3 299.8 818 300.5 818.1C301.2 818.2 301.9 817.5 302.6 816.8C303.3 816 304.1 814.6 304.8 813.6C305.6 812.5 306.4 811.2 307.2 810.6C307.9 810 308.6 809.6 309.3 809.8C309.9 809.9 310.4 810.2 311 811C311.6 811.8 312.2 813.4 312.8 814.8C313.9 817.3 314.9 821.2 316 823.6C317.3 826.4 318.5 828.1 319.8 829.8C320.9 831.3 322 832.7 323.1 833.3C324.8 834.3 326.5 832.2 328.2 832.3C329.6 832.4 330.9 833 332.3 833.5C333.7 834 335 835.1 336.4 835.5C337.7 835.9 339.1 835.8 340.4 835.9C341.8 836.1 343.1 835.9 344.5 836.4C345.9 836.9 347.2 838 348.6 839C350 840 351.3 841.7 352.7 842.7C354.7 844.2 356.8 845.6 358.8 845.8C360.5 846 362.2 845 363.9 844.5C366 843.9 368 843.2 370.1 842.7C372.5 842.1 374.8 841.6 377.2 841.1C379.6 840.5 382 839.7 384.4 839.4C386.8 839.1 389.1 839.7 391.5 839.4C393.6 839.2 395.6 838.6 397.7 838C399.7 837.4 401.8 837.1 403.8 835.9C405.2 835.1 406.5 834.4 407.9 832.9C409.3 831.4 410.6 828.3 412 826.7C413 825.5 414 824.5 415 823.9C415.9 823.4 416.8 822.9 417.7 823.1C418.5 823.2 419.2 823.7 420 824.5C420.7 825.3 421.5 826.6 422.2 827.8C423.6 830 424.9 833 426.3 834.9C427.7 836.8 429 838.3 430.4 839.4C432.4 841 434.5 840.6 436.5 841.1C438.5 841.6 440.6 842.1 442.6 842.7C444.8 843.3 447 844.8 449.2 844.7C450.8 844.6 452.5 844.1 454.1 843.1C455.5 842.2 456.8 840.4 458.2 839.4C459.6 838.4 460.9 837.6 462.3 837.4C464.3 837.1 466.4 839.4 468.4 839.4C470.1 839.4 471.8 839.2 473.5 838C475.2 836.8 476.9 834.1 478.6 831.9C480.3 829.7 482 826.6 483.7 824.7C484.4 824 485 823.1 485.7 822.7C486.3 822.3 486.8 822.1 487.4 822.1C488 822.1 488.5 822.4 489.1 822.8C489.7 823.2 490.3 824 490.9 824.7C492.3 826.3 493.6 828.9 495 830.8C496.7 833.1 498.4 835.7 500.1 837C501.8 838.3 503.5 838.4 505.2 838.6C507.2 838.9 509.3 837.8 511.3 838C513.3 838.2 515.4 839.7 517.4 840C519.5 840.3 521.5 840 523.6 840C526.3 840 529 840.2 531.7 840C534.4 839.8 537.2 839 539.9 838.6C542.6 838.2 545.4 838 548.1 837.4C550.1 837 552.2 835.7 554.2 835.9C555.9 836.1 557.6 837.2 559.3 838C561.4 839 563.4 840.5 565.5 841.5C567.5 842.5 569.6 843.5 571.6 844.1C573.3 844.6 575 845.3 576.7 845.1C578.7 844.9 580.8 843.7 582.8 842.1C584.5 840.8 586.2 838.8 587.9 837C589.3 835.6 590.6 833.8 592 832.5C592.7 831.8 593.5 831.1 594.2 830.7C594.8 830.4 595.5 830.1 596.1 830.2C596.6 830.2 597.2 830.4 597.7 830.8C598.2 831.2 598.7 831.8 599.2 832.5C600.2 833.9 601.2 836.3 602.2 838C603.2 839.8 604.3 841.8 605.3 843.1C606.9 845.1 608.4 846.1 610 846.4C611.5 846.7 613 845.4 614.5 845.1C615.7 844.8 617 844.4 618.2 844.5C619.7 844.7 621.2 845.8 622.7 846.6C624 847.3 625.4 848.3 626.7 848.8C628.4 849.5 630.2 849.9 631.9 850C632.6 850 633.3 850 634 850"/>
<path class="cv" stroke="#ff4608" d="M110.8 850C112.5 850 114.3 850 116 850C117.7 850 119.5 850 121.2 850C122.9 850 124.7 850 126.4 850C128.1 850 129.9 850 131.6 850C133.3 850 135.1 850 136.8 850C138.5 850 140.3 850 142 850C143.7 850 145.5 850 147.2 850C148.9 850 150.7 850 152.4 850C154.1 850 155.9 850 157.6 850C159.3 850 161.1 850 162.8 850C164.5 850 166.3 850 168 850C169.8 850 171.7 850 173.5 849.7C175.2 849.4 176.9 849 178.6 848.3C180.3 847.6 182 846.5 183.7 845.7C185.1 845 186.4 844.7 187.8 843.7C188.7 843.1 189.5 843.1 190.4 841.4C190.9 840.4 191.4 839.5 191.9 837.5C192.4 835.5 192.9 832.5 193.4 829.4C193.8 826.7 194.3 823.9 194.7 820.2C195 817.3 195.4 814.5 195.7 810.5C196 806.5 196.4 801.4 196.7 796C197 790.6 197.4 784.3 197.7 778C198 771.7 198.4 764.5 198.7 758C199.1 750.2 199.5 742.1 199.9 735C200.5 724.3 201.1 714.8 201.7 706.5C202.3 698.6 202.8 690.6 203.4 686.1C203.7 683.5 204.1 681.8 204.4 680.6C204.7 679.7 204.9 679.1 205.2 679.1C205.5 679.1 205.7 679.6 206 680.6C206.3 681.8 206.6 683.7 206.9 686.1C207.5 690.9 208.1 697.1 208.7 707C209.1 714.1 209.6 724.2 210 733C210.4 741.8 210.9 752 211.3 760C211.8 769.8 212.4 778.2 212.9 784.9C213.6 793.3 214.2 798.3 214.9 802.4C215.4 805.7 216 807.5 216.5 809C217 810.3 217.4 810.9 217.9 811.1C218.5 811.4 219.2 810 219.8 809.6C220.4 809.2 221.1 808.2 221.7 808.6C222.1 808.9 222.6 809.5 223 810.5C223.5 811.5 223.9 813.3 224.4 814.8C225.4 818.1 226.4 823.2 227.4 826.1C228.4 829 229.4 830.9 230.4 832.3C231.5 833.8 232.5 834.2 233.6 834.8C235.3 835.7 236.9 835.4 238.6 835.5C240.3 835.6 241.9 835.4 243.6 835.3C245.3 835.2 246.9 835.1 248.6 834.8C250.3 834.5 251.9 834.9 253.6 833.5C254.9 832.4 256.1 830.9 257.4 828.6C258.6 826.3 259.9 822.5 261.1 819.8C261.9 818.1 262.7 816 263.5 815C264.1 814.2 264.7 813.6 265.3 813.6C265.8 813.6 266.4 814 266.9 814.8C267.5 815.6 268 817.2 268.6 818.6C269.8 821.7 271.1 826.8 272.3 829.8C273.3 832.2 274.2 834.2 275.2 835.5C276.1 836.6 276.9 837.3 277.8 837.3C278.5 837.3 279.3 836.6 280 835.8C280.8 835 281.5 833.6 282.3 832.3C284 829.5 285.6 825.2 287.3 822.3C289 819.4 290.6 816.4 292.3 814.8C293.1 814.1 293.9 813.5 294.7 813.2C295.4 812.9 296.1 812.7 296.8 812.8C297.5 812.9 298.2 813.2 298.9 814C299.6 814.8 300.3 815.9 301 817.3C302.3 819.8 303.5 824.4 304.8 827.3C306.3 830.8 307.8 834.1 309.3 836C311 838.1 312.6 838.7 314.3 838.5C316.1 838.3 318 835.9 319.8 834.2C321.2 832.9 322.7 830.9 324.1 829.8C325.8 828.5 327.5 827 329.2 827.4C330.6 827.7 331.9 829.5 333.3 830.8C335 832.4 336.7 835 338.4 836.6C340.4 838.5 342.5 839.6 344.5 840.6C346.9 841.8 349.3 842.5 351.7 843.1C354.8 843.8 357.8 844 360.9 844.1C364 844.2 367 843.5 370.1 843.7C372.5 843.8 374.8 844.5 377.2 844.7C378.9 844.9 380.6 845.4 382.3 845.1C384 844.8 385.7 843.7 387.4 843.1C389.8 842.3 392.2 841.3 394.6 841.1C397 840.9 399.3 841.7 401.7 842.1C404.4 842.6 407.2 843.3 409.9 843.7C412.6 844.1 415.4 844.3 418.1 844.7C420.8 845.1 423.6 845.8 426.3 846.2C429 846.6 431.7 846.9 434.4 847.2C437.1 847.5 439.9 847.9 442.6 848.2C445 848.4 447.4 849 449.8 848.8C451.9 848.7 454 848 456.1 847.6C458.2 847.2 460.2 846.4 462.3 846.2C465 845.9 467.7 846.6 470.4 846.6C473.1 846.6 475.9 846.9 478.6 846.2C480.3 845.7 482 844.6 483.7 844.1C485.1 843.7 486.4 843.2 487.8 843.1C489.8 842.9 491.9 844.3 493.9 844.1C496 843.9 498 842.9 500.1 842.1C502.1 841.4 504.2 839.7 506.2 839.6C507.9 839.6 509.6 840.4 511.3 841.1C513.3 842 515.4 843.9 517.4 844.7C519.8 845.6 522.2 846.1 524.6 845.8C526.6 845.6 528.7 844.5 530.7 843.7C532.8 842.9 534.8 841 536.9 841.1C538.6 841.2 540.3 842.4 542 843.5C543.7 844.6 545.4 846.8 547.1 847.8C548.5 848.6 549.8 849.4 551.2 849.2C552.6 849 553.9 848.9 555.3 846.8C556.3 845.2 557.3 842.9 558.3 840C559.3 837 560.4 833 561.4 828.8C562.4 824.5 563.5 819.3 564.5 814.5C565.5 809.8 566.5 804.6 567.5 800.2C568.5 795.7 569.6 791.4 570.6 787.9C571.3 785.7 571.9 783.3 572.6 782C573 781.1 573.5 780.6 573.9 780.2C574.3 779.8 574.7 779.6 575.1 779.7C575.5 779.8 576 780 576.4 780.8C576.8 781.6 577.3 782.8 577.7 784.3C578.5 787 579.2 791.4 580 796C580.6 799.8 581.3 804.7 581.9 809C582.6 813.6 583.2 818.3 583.9 822.7C584.5 826.4 585 830.5 585.6 833.5C586.4 837.5 587.1 840.2 587.9 842.1C588.9 844.6 590 843.9 591 844.1C592.4 844.3 593.7 842.7 595.1 842.1C596 841.7 596.8 841.1 597.7 841.1C598.9 841.1 600 842 601.2 843.1C602.2 844 603.3 845.8 604.3 846.8C605.7 848.1 607 848.7 608.4 849.2C610.1 849.9 611.8 849.9 613.5 850C615.7 850.2 617.8 850 620 850C621.7 850 623.4 850 625 850C626.7 850 628.4 850 630.1 850C631.8 850 633.4 850 635.1 850C636.8 850 638.5 850 640.2 850C641.8 850 643.5 850 645.2 850C646.9 850 648.6 850 650.2 850C651.9 850 653.6 850 655.3 850C657 850 658.6 850 660.3 850C662 850 663.7 850 665.4 850C667 850 668.7 850 670.4 850"/>
</g>
<rect x="110.8" y="520.4" width="559.6" height="370.9" rx="0.3" fill="none" stroke="#2c2c2c" stroke-width="1.35"/>
<text class="tk" transform="translate(97.4 858.5) scale(0.96 1)" text-anchor="end">0</text>
<text class="tk" transform="translate(97.4 776.1) scale(0.96 1)" text-anchor="end">2</text>
<text class="tk" transform="translate(97.4 693.7) scale(0.96 1)" text-anchor="end">4</text>
<text class="tk" transform="translate(97.4 611.3) scale(0.96 1)" text-anchor="end">6</text>
<text class="tk" transform="translate(97.4 528.9) scale(0.96 1)" text-anchor="end">8</text>
<text class="tk" transform="translate(111 921.9) scale(0.96 1)" text-anchor="middle">-5</text>
<text class="tk" transform="translate(176.3 921.9) scale(0.96 1)" text-anchor="middle">0</text>
<text class="tk" transform="translate(238.4 921.9) scale(0.96 1)" text-anchor="middle">5</text>
<text class="tk" transform="translate(300.5 921.9) scale(0.96 1)" text-anchor="middle">10</text>
<text class="tk" transform="translate(362.6 921.9) scale(0.96 1)" text-anchor="middle">15</text>
<text class="tk" transform="translate(424.7 921.9) scale(0.96 1)" text-anchor="middle">20</text>
<text class="tk" transform="translate(486.8 921.9) scale(0.96 1)" text-anchor="middle">25</text>
<text class="tk" transform="translate(548.9 921.9) scale(0.96 1)" text-anchor="middle">30</text>
<text class="tk" transform="translate(611 921.9) scale(0.96 1)" text-anchor="middle">35</text>
<text class="tk" transform="translate(673.2 921.9) scale(0.96 1)" text-anchor="middle">40</text>
<text class="ax" transform="translate(390.8 955.2) scale(0.962 1)" text-anchor="middle">Frequency (THz)</text>
<text class="ax" transform="translate(29.5 706.1) rotate(-90) scale(0.967 1)" text-anchor="middle">Spectral layer thermal conductivity</text>
<text class="ax" transform="translate(57.6 704.6) rotate(-90) scale(0.972 1)" text-anchor="middle">(W/mK•THz)</text>
<text class="tt" transform="translate(641.6 560.7) scale(0.97 1)" text-anchor="end"><tspan font-style="italic">Y</tspan><tspan dx="0"> direction</tspan></text>
<line x1="459.2" y1="611.5" x2="519.9" y2="611.5" stroke="#000" stroke-width="2.2"/>
<line x1="459.2" y1="645.5" x2="519.9" y2="645.5" stroke="#0000f5" stroke-width="2.2"/>
<line x1="459.2" y1="679.6" x2="519.9" y2="679.6" stroke="#ff4608" stroke-width="2.2"/>
<text class="lg" x="533.2" y="617.6">NaCoO<tspan class="sb" dy="6.3">2</tspan></text>
<text class="lg" x="533.2" y="651.6">Na<tspan class="sb" dy="6.3">0.5</tspan><tspan dy="-6.3">CoO</tspan><tspan class="sb" dy="6.3">2</tspan></text>
<text class="lg" x="533.2" y="685.7">Ca<tspan class="sb" dy="6.3">3</tspan><tspan dy="-6.3">Co</tspan><tspan class="sb" dy="6.3">4</tspan><tspan dy="-6.3">O</tspan><tspan class="sb" dy="6.3">9</tspan></text>
<text class="pl" x="-1.2" y="497.7">b</text>
</g>
<g id="panel-c">
<line x1="110.8" y1="1332.7" x2="670.4" y2="1332.7" stroke="#000" stroke-width="0.9"/>
<path d="M123.4 1373.9v-3.2M123.4 1002.5v3.2M135.8 1373.9v-3.2M135.8 1002.5v3.2M148.2 1373.9v-3.2M148.2 1002.5v3.2M160.7 1373.9v-3.2M160.7 1002.5v3.2M173.1 1373.9v-6.3M173.1 1002.5v6.3M185.5 1373.9v-3.2M185.5 1002.5v3.2M197.9 1373.9v-3.2M197.9 1002.5v3.2M210.4 1373.9v-3.2M210.4 1002.5v3.2M222.8 1373.9v-3.2M222.8 1002.5v3.2M235.2 1373.9v-6.3M235.2 1002.5v6.3M247.6 1373.9v-3.2M247.6 1002.5v3.2M260 1373.9v-3.2M260 1002.5v3.2M272.5 1373.9v-3.2M272.5 1002.5v3.2M284.9 1373.9v-3.2M284.9 1002.5v3.2M297.3 1373.9v-6.3M297.3 1002.5v6.3M309.7 1373.9v-3.2M309.7 1002.5v3.2M322.1 1373.9v-3.2M322.1 1002.5v3.2M334.6 1373.9v-3.2M334.6 1002.5v3.2M347 1373.9v-3.2M347 1002.5v3.2M359.4 1373.9v-6.3M359.4 1002.5v6.3M371.8 1373.9v-3.2M371.8 1002.5v3.2M384.3 1373.9v-3.2M384.3 1002.5v3.2M396.7 1373.9v-3.2M396.7 1002.5v3.2M409.1 1373.9v-3.2M409.1 1002.5v3.2M421.5 1373.9v-6.3M421.5 1002.5v6.3M433.9 1373.9v-3.2M433.9 1002.5v3.2M446.4 1373.9v-3.2M446.4 1002.5v3.2M458.8 1373.9v-3.2M458.8 1002.5v3.2M471.2 1373.9v-3.2M471.2 1002.5v3.2M483.6 1373.9v-6.3M483.6 1002.5v6.3M496 1373.9v-3.2M496 1002.5v3.2M508.5 1373.9v-3.2M508.5 1002.5v3.2M520.9 1373.9v-3.2M520.9 1002.5v3.2M533.3 1373.9v-3.2M533.3 1002.5v3.2M545.7 1373.9v-6.3M545.7 1002.5v6.3M558.2 1373.9v-3.2M558.2 1002.5v3.2M570.6 1373.9v-3.2M570.6 1002.5v3.2M583 1373.9v-3.2M583 1002.5v3.2M595.4 1373.9v-3.2M595.4 1002.5v3.2M607.8 1373.9v-6.3M607.8 1002.5v6.3M620.3 1373.9v-3.2M620.3 1002.5v3.2M632.7 1373.9v-3.2M632.7 1002.5v3.2M645.1 1373.9v-3.2M645.1 1002.5v3.2M657.5 1373.9v-3.2M657.5 1002.5v3.2M110.8 1365.7h3.2M670.4 1365.7h-3.2M110.8 1357.4h3.2M670.4 1357.4h-3.2M110.8 1349.2h3.2M670.4 1349.2h-3.2M110.8 1340.9h3.2M670.4 1340.9h-3.2M110.8 1332.7h6.3M670.4 1332.7h-6.3M110.8 1324.5h3.2M670.4 1324.5h-3.2M110.8 1316.2h3.2M670.4 1316.2h-3.2M110.8 1308h3.2M670.4 1308h-3.2M110.8 1299.7h3.2M670.4 1299.7h-3.2M110.8 1291.5h3.2M670.4 1291.5h-3.2M110.8 1283.3h3.2M670.4 1283.3h-3.2M110.8 1275h3.2M670.4 1275h-3.2M110.8 1266.8h3.2M670.4 1266.8h-3.2M110.8 1258.5h3.2M670.4 1258.5h-3.2M110.8 1250.3h6.3M670.4 1250.3h-6.3M110.8 1242.1h3.2M670.4 1242.1h-3.2M110.8 1233.8h3.2M670.4 1233.8h-3.2M110.8 1225.6h3.2M670.4 1225.6h-3.2M110.8 1217.3h3.2M670.4 1217.3h-3.2M110.8 1209.1h3.2M670.4 1209.1h-3.2M110.8 1200.9h3.2M670.4 1200.9h-3.2M110.8 1192.6h3.2M670.4 1192.6h-3.2M110.8 1184.4h3.2M670.4 1184.4h-3.2M110.8 1176.1h3.2M670.4 1176.1h-3.2M110.8 1167.9h6.3M670.4 1167.9h-6.3M110.8 1159.7h3.2M670.4 1159.7h-3.2M110.8 1151.4h3.2M670.4 1151.4h-3.2M110.8 1143.2h3.2M670.4 1143.2h-3.2M110.8 1134.9h3.2M670.4 1134.9h-3.2M110.8 1126.7h3.2M670.4 1126.7h-3.2M110.8 1118.5h3.2M670.4 1118.5h-3.2M110.8 1110.2h3.2M670.4 1110.2h-3.2M110.8 1102h3.2M670.4 1102h-3.2M110.8 1093.7h3.2M670.4 1093.7h-3.2M110.8 1085.5h6.3M670.4 1085.5h-6.3M110.8 1077.3h3.2M670.4 1077.3h-3.2M110.8 1069h3.2M670.4 1069h-3.2M110.8 1060.8h3.2M670.4 1060.8h-3.2M110.8 1052.5h3.2M670.4 1052.5h-3.2M110.8 1044.3h3.2M670.4 1044.3h-3.2M110.8 1036.1h3.2M670.4 1036.1h-3.2M110.8 1027.8h3.2M670.4 1027.8h-3.2M110.8 1019.6h3.2M670.4 1019.6h-3.2M110.8 1011.3h3.2M670.4 1011.3h-3.2" stroke="#2c2c2c" stroke-width="1.1" fill="none"/>
<clipPath id="cp2"><rect x="110.8" y="1002.5" width="559.6" height="371.4"/></clipPath>
<g clip-path="url(#cp2)" transform="translate(0 0.1)">
<path class="cv" stroke="#000" d="M168 1332.6C169 1332.6 170 1332.7 171 1332.6C172.4 1332.5 173.7 1332.5 175.1 1331.6C176.3 1330.8 177.4 1329.6 178.6 1328.1C179.5 1327 180.4 1325.4 181.3 1324.2C181.9 1323.4 182.4 1322.6 183 1322C183.7 1321.3 184.5 1321.1 185.2 1320.7C186.2 1320.2 187.3 1320.2 188.3 1319.7C188.9 1319.4 189.4 1319.5 190 1318.6C190.4 1317.9 190.9 1317.5 191.3 1315.6C191.6 1314.3 191.9 1312.6 192.2 1310.4C192.5 1308.2 192.8 1305.3 193.1 1302.5C193.4 1299.7 193.7 1296.9 194 1293.8C194.3 1290.7 194.6 1287.8 194.9 1284C195.2 1280.2 195.5 1275.8 195.8 1270.9C196.2 1264.9 196.5 1257.6 196.9 1250.4C197.3 1243.2 197.6 1235.9 198 1228C198.4 1219.4 198.8 1208.9 199.2 1200.5C199.7 1190.1 200.2 1180.4 200.7 1173C201.2 1165.6 201.7 1159.8 202.2 1156.2C202.5 1154 202.8 1152.7 203.1 1151.8C203.4 1151 203.6 1150.5 203.9 1150.5C204.2 1150.5 204.4 1150.6 204.7 1152C204.9 1153.2 205.2 1155.3 205.4 1157.5C205.9 1162.3 206.4 1169.5 206.9 1177.4C207.4 1185.3 207.9 1195.7 208.4 1204.9C208.9 1213.5 209.3 1223.2 209.8 1231C210.3 1238.8 210.7 1245.4 211.2 1251.5C211.7 1258 212.2 1263.8 212.7 1268.3C213.3 1273.4 213.8 1276.8 214.4 1279.5C214.8 1281.5 215.3 1282.8 215.7 1283.7C216.1 1284.4 216.4 1284.8 216.8 1284.8C217.2 1284.8 217.5 1284.4 217.9 1283.8C218.2 1283.3 218.6 1282.5 218.9 1281.5C219.6 1279.5 220.3 1276.2 221 1273C221.8 1269.5 222.5 1264.7 223.3 1261.5C224 1258.4 224.8 1255.7 225.5 1254C226 1252.9 226.4 1252.3 226.9 1251.8C227.3 1251.4 227.6 1251.1 228 1251.1C228.4 1251.1 228.8 1251.5 229.2 1252.2C229.6 1252.9 230 1253.8 230.4 1255.2C231.2 1257.9 232 1263 232.8 1267.5C233.6 1272 234.4 1277.9 235.2 1282.5C236 1287.1 236.8 1291.5 237.6 1295C238.4 1298.5 239.2 1301.8 240 1303.8C240.5 1305.2 241.1 1306.1 241.6 1306.7C242 1307.2 242.5 1307.5 242.9 1307.5C243.4 1307.5 243.8 1307 244.3 1306.5C244.8 1305.9 245.3 1305 245.8 1304.2C246.8 1302.6 247.8 1300.3 248.8 1298.8C249.6 1297.6 250.4 1296.6 251.2 1295.9C252.1 1295.2 252.9 1294.9 253.8 1294.8C255.1 1294.6 256.4 1295.3 257.7 1295.8C258.9 1296.2 260 1296.6 261.2 1297.4C262.3 1298.2 263.5 1299.1 264.6 1300.5C265.7 1301.9 266.8 1303.7 267.9 1305.6C268.9 1307.4 270 1309.8 271 1311.6C272 1313.3 273 1315 274 1316C275.2 1317.2 276.3 1317.5 277.5 1317.8C278.9 1318.1 280.2 1317.4 281.6 1317.3C282.6 1317.2 283.7 1316.9 284.7 1317.1C285.7 1317.3 286.7 1317.8 287.7 1318.5C289.1 1319.4 290.4 1321.1 291.8 1322.5C293.2 1323.9 294.5 1325.8 295.9 1327C297.3 1328.2 298.6 1329.2 300 1329.8C301.8 1330.6 303.5 1330.8 305.3 1330.6C306.7 1330.5 308 1329.9 309.4 1329.5C311.1 1329 312.8 1328.1 314.5 1327.5C316.2 1326.9 317.9 1326.8 319.6 1326.1C321.3 1325.4 323 1324.4 324.7 1323.4C326.1 1322.6 327.4 1321.4 328.8 1320.9C329.8 1320.5 330.9 1320.5 331.9 1320.3C333.1 1320.1 334.2 1320.1 335.4 1319.7C336.6 1319.3 337.8 1318.6 339 1317.9C339.7 1317.5 340.5 1316.9 341.2 1316.6C341.8 1316.4 342.5 1316.2 343.1 1316.2C343.7 1316.2 344.4 1316.5 345 1316.7C345.7 1317 346.5 1317.5 347.2 1317.9C348.9 1318.8 350.6 1320 352.3 1320.9C354 1321.9 355.7 1322.8 357.4 1323.6C358.6 1324.1 359.8 1324.7 361 1325C361.9 1325.2 362.7 1325.5 363.6 1325.4C364.3 1325.3 365.1 1325.2 365.8 1324.7C366.4 1324.3 367.1 1323.7 367.7 1323C369 1321.5 370.4 1319.2 371.7 1316.9C373.1 1314.5 374.4 1311.4 375.8 1308.7C377.2 1306 378.5 1302.9 379.9 1300.5C381.1 1298.3 382.4 1296.1 383.6 1294.8C384.3 1294 385.1 1293.4 385.8 1293.1C386.4 1292.8 387.1 1292.7 387.7 1292.7C388.5 1292.7 389.2 1292.9 390 1293.1C390.7 1293.3 391.5 1293.7 392.2 1294C393.6 1294.6 394.9 1295 396.3 1296.4C397.7 1297.8 399 1300.2 400.4 1302.6C401.7 1305 403.1 1308.4 404.4 1310.7C405.4 1312.5 406.5 1314.3 407.5 1315.4C408.4 1316.4 409.3 1317.2 410.2 1317.3C411.2 1317.4 412.2 1316.3 413.2 1315.8C414.2 1315.3 415.3 1314.2 416.3 1314.2C417.5 1314.2 418.6 1315.5 419.8 1316.2C421.3 1317.1 422.8 1318.7 424.3 1318.9C425.3 1319 426.3 1318.6 427.3 1318.3C428.3 1318 429.2 1317.6 430.2 1316.9C431.4 1316 432.7 1314.9 433.9 1312.8C435.1 1310.8 436.2 1308 437.4 1304.6C438.4 1301.7 439.4 1297.7 440.4 1294.4C441.4 1291 442.5 1287 443.5 1284.5C444.4 1282.3 445.3 1280.9 446.2 1279.9C446.7 1279.4 447.2 1279.1 447.7 1278.8C448.1 1278.6 448.6 1278.4 449 1278.4C449.5 1278.4 450 1278.8 450.5 1279.2C451.1 1279.7 451.7 1280.5 452.3 1281.1C453.1 1282 453.9 1283.1 454.7 1283.7C455.4 1284.2 456.1 1284.7 456.8 1284.6C457.4 1284.6 458.1 1284.2 458.7 1283.6C459.2 1283.1 459.8 1282.1 460.3 1281.5C461 1280.8 461.6 1280.2 462.3 1279.9C462.8 1279.6 463.4 1279.4 463.9 1279.5C464.4 1279.6 464.9 1279.8 465.4 1280.2C465.9 1280.6 466.5 1281.2 467 1282.1C468 1283.8 469.1 1287.5 470.1 1290.3C471.1 1293 472.1 1296 473.1 1298.5C474.1 1301.1 475.2 1303.4 476.2 1305.6C477.2 1307.8 478.3 1309.5 479.3 1311.8C480.3 1314 481.3 1317 482.3 1318.9C483.3 1320.9 484.4 1322.5 485.4 1323.6C486.8 1325.1 488.1 1325 489.5 1325.6C490.9 1326.2 492.2 1326.4 493.6 1327.1C495 1327.8 496.3 1328.8 497.7 1329.5C499 1330.1 500.4 1330.7 501.7 1331C504.4 1331.7 507.2 1331.1 509.9 1331.2C512.6 1331.3 515.4 1331.5 518.1 1331.6C520.1 1331.6 522.2 1331.8 524.2 1331.6C526.3 1331.4 528.3 1330.8 530.4 1330.1C532.4 1329.5 534.5 1328.9 536.5 1327.7C538.2 1326.7 539.9 1325.8 541.6 1324C542.9 1322.7 544.1 1321.3 545.4 1319.2C546.4 1317.6 547.3 1315.4 548.3 1313.5C549.3 1311.5 550.3 1309.3 551.3 1307.5C552.3 1305.7 553.3 1304.4 554.3 1302.8C555.2 1301.4 556 1300.6 556.9 1298.5C557.6 1296.9 558.2 1294.6 558.9 1292.5C559.5 1290.6 560.1 1288.3 560.7 1286.8C561.3 1285.4 561.8 1284.3 562.4 1283.6C562.9 1283 563.3 1282.6 563.8 1282.7C564.2 1282.8 564.6 1283.1 565 1283.8C565.4 1284.4 565.7 1285.3 566.1 1286.6C566.7 1288.7 567.3 1292.1 567.9 1295.4C568.6 1299.1 569.2 1304 569.9 1307.7C570.6 1311.6 571.3 1315.2 572 1317.9C572.7 1320.5 573.3 1322.4 574 1323.6C574.8 1325 575.5 1325 576.3 1325C577.3 1325 578.3 1323.3 579.3 1322.4C580 1321.8 580.8 1320.9 581.5 1320.5C582.1 1320.2 582.6 1319.9 583.2 1319.9C583.7 1319.9 584.3 1320.1 584.8 1320.5C585.4 1320.9 585.9 1321.7 586.5 1322.4C587.5 1323.7 588.6 1325.8 589.6 1327.1C590.7 1328.6 591.9 1329.8 593 1330.6C594.4 1331.6 595.7 1331.7 597.1 1332C599.5 1332.6 601.9 1332.5 604.3 1332.6C606.2 1332.7 608.1 1332.6 610 1332.6"/>
<path class="cv" stroke="#0000f5" d="M166.5 1332.6C167.3 1332.5 168.2 1332.3 169 1332.2C170.2 1332 171.3 1332 172.5 1331.8C174.3 1331.6 176 1331.8 177.8 1331C179 1330.5 180.1 1330 181.3 1328.8C182.2 1327.9 183 1326.4 183.9 1325.3C184.8 1324.2 185.6 1323 186.5 1322.2C187.2 1321.6 187.8 1321.2 188.5 1320.9C189 1320.7 189.5 1320.5 190 1320.5C190.5 1320.5 191.1 1320.7 191.6 1321C192.2 1321.4 192.9 1322.1 193.5 1322.7C194.7 1323.7 195.8 1324.9 197 1325.7C198.2 1326.5 199.3 1327.2 200.5 1327.7C201.7 1328.2 202.8 1328.5 204 1328.8C205.2 1329.1 206.4 1329.5 207.6 1329.7C210.1 1330.2 212.7 1330.6 215.2 1330.6C216.9 1330.6 218.6 1330.3 220.3 1330.2C222 1330 223.7 1329.9 225.4 1329.7C227.1 1329.5 228.8 1329.3 230.5 1329.1C232.2 1328.9 233.9 1328.6 235.6 1328.5C237.3 1328.4 239 1328.5 240.7 1328.5C242.4 1328.5 244.1 1328.4 245.8 1328.5C247.5 1328.6 249.2 1328.8 251 1329C252.7 1329.2 254.4 1329.3 256.1 1329.5C257.8 1329.7 259.5 1329.9 261.2 1330C262.9 1330.2 264.6 1330.4 266.3 1330.6C268.3 1330.8 270.4 1330.9 272.4 1331C274.4 1331.1 276.5 1331.3 278.5 1331.4C280.6 1331.5 282.6 1331.5 284.6 1331.6C286.7 1331.7 288.8 1331.7 290.8 1331.8C292.7 1331.9 294.6 1332 296.6 1332.1C298.5 1332.2 300.4 1332.4 302.3 1332.4C304.3 1332.4 306.4 1332.1 308.4 1332C310.4 1331.9 312.5 1331.7 314.5 1331.6C316.6 1331.4 318.6 1331.3 320.6 1331.1C322.7 1330.9 324.8 1330.7 326.8 1330.6C329.5 1330.4 332.3 1330.2 335 1330.1C337.7 1330 340.4 1329.8 343.1 1329.9C344.8 1330 346.5 1330.2 348.2 1330.3C350 1330.5 351.7 1330.7 353.4 1330.8C355.1 1330.9 356.8 1330.9 358.5 1331C360.2 1331.1 361.9 1331.2 363.6 1331.2C365.3 1331.2 367 1330.9 368.7 1330.8C370.4 1330.6 372.1 1330.4 373.8 1330.3C376.5 1330.1 379.3 1330.1 382 1329.7C384.4 1329.4 386.7 1328.7 389.1 1328.3C390.8 1328 392.5 1327.8 394.2 1327.7C396.6 1327.6 399 1328.5 401.4 1328.3C403.1 1328.2 404.8 1327.5 406.5 1327.3C407.9 1327.1 409.2 1326.8 410.6 1326.9C412.3 1327 414 1327.6 415.7 1328.1C417.4 1328.6 419.1 1329.5 420.8 1329.7C422.2 1329.9 423.7 1329.8 425.1 1329.5C426.8 1329.2 428.5 1328.6 430.2 1327.7C431.7 1326.9 433.2 1325.4 434.7 1324.6C435.5 1324.2 436.2 1323.7 437 1323.5C437.7 1323.3 438.3 1323.1 439 1323.2C439.6 1323.3 440.3 1323.5 440.9 1323.8C441.6 1324.2 442.2 1324.8 442.9 1325.4C444.1 1326.4 445.4 1327.9 446.6 1328.7C448 1329.6 449.3 1330.1 450.7 1330.6C452.7 1331.3 454.8 1331.5 456.8 1331.6C458.8 1331.7 460.9 1332.2 462.9 1331.2C464.3 1330.5 465.6 1329.6 467 1328.1C468.4 1326.6 469.7 1324.4 471.1 1322C472.5 1319.6 473.8 1316.3 475.2 1313.8C476.2 1312 477.2 1310 478.2 1308.7C479.2 1307.4 480.3 1306.7 481.3 1306C482.7 1305.1 484 1305.1 485.4 1304.6C486.8 1304.1 488.1 1304 489.5 1303.2C490.9 1302.4 492.2 1301 493.6 1299.9C494.5 1299.2 495.3 1298.2 496.2 1297.7C496.9 1297.3 497.6 1296.9 498.3 1297C498.8 1297 499.3 1297.1 499.8 1297.6C500.2 1298 500.7 1298.8 501.1 1299.5C502.1 1301.3 503.2 1304.3 504.2 1306.6C505.3 1309.1 506.4 1311.7 507.5 1313.8C508.6 1316 509.8 1317.7 510.9 1319.3C512.3 1321.2 513.6 1322.6 515 1324C516.4 1325.4 517.7 1326.9 519.1 1327.7C520.5 1328.5 521.8 1328.9 523.2 1329.1C525.2 1329.4 527.3 1327.9 529.3 1328.1C531 1328.2 532.7 1329 534.4 1329.5C536.5 1330.1 538.5 1331.2 540.6 1331.6C542.6 1332 544.7 1332.1 546.7 1332.2C549.5 1332.3 552.4 1332.1 555.2 1331.8C557.9 1331.5 560.7 1331 563.4 1330.6C565.8 1330.3 568.1 1329.7 570.5 1329.7C572.6 1329.7 574.6 1330 576.7 1330.3C578.7 1330.6 580.8 1331.9 582.8 1331.6C584.2 1331.4 585.5 1331.2 586.9 1330.1C588.1 1329.2 589.2 1327.6 590.4 1326.1C591.5 1324.7 592.5 1322.9 593.6 1321.6C594.4 1320.7 595.2 1319.7 596 1319.2C596.7 1318.7 597.4 1318.6 598.1 1318.5C599.1 1318.4 600 1318.8 601 1319C602.1 1319.2 603.2 1319.5 604.3 1319.5C605.4 1319.5 606.4 1319.1 607.5 1319C608.5 1318.9 609.4 1318.7 610.4 1318.7C611.1 1318.7 611.8 1318.8 612.5 1319C613.2 1319.2 613.8 1319.5 614.5 1319.9C615.7 1320.7 617 1322.2 618.2 1323.6C619.3 1324.9 620.5 1326.6 621.6 1327.7C623 1329.1 624.3 1330.1 625.7 1330.8C627.8 1331.9 629.8 1331.8 631.9 1331.8C634.3 1331.8 636.6 1331 639 1330.6C640.9 1330.3 642.8 1329.4 644.7 1329.5C646.2 1329.6 647.7 1330.2 649.2 1330.6C650.9 1331 652.6 1331.5 654.3 1331.8C656 1332.1 657.7 1332.3 659.4 1332.4C660.8 1332.5 662.1 1332.6 663.5 1332.6C664.3 1332.6 665.2 1332.6 666 1332.6"/>
<path class="cv" stroke="#ff4608" d="M110.8 1332.6C112.6 1332.6 114.4 1332.6 116.3 1332.6C118.1 1332.6 119.9 1332.6 121.7 1332.6C123.6 1332.6 125.4 1332.6 127.2 1332.6C129 1332.6 130.8 1332.6 132.7 1332.6C134.5 1332.6 136.3 1332.6 138.1 1332.6C140 1332.6 141.8 1332.6 143.6 1332.6C145.4 1332.6 147.2 1332.6 149.1 1332.6C150.9 1332.6 152.7 1332.6 154.5 1332.6C156.4 1332.6 158.2 1332.7 160 1332.6C161.5 1332.5 163 1332.6 164.5 1332.1C165.2 1331.9 165.8 1331.7 166.5 1331.2C167 1330.8 167.6 1330.4 168.1 1329.6C168.6 1328.9 169 1328.1 169.5 1327C169.9 1326 170.4 1324.9 170.8 1323.4C171.4 1321.4 171.9 1318.3 172.5 1315.6C173.1 1312.8 173.7 1309.5 174.3 1306.8C174.9 1304.3 175.4 1301.6 176 1299.8C176.6 1297.9 177.2 1296.7 177.8 1295.9C178.1 1295.5 178.4 1295.2 178.7 1295C179 1294.8 179.2 1294.7 179.5 1294.7C179.8 1294.7 180.1 1294.9 180.4 1295.2C180.7 1295.5 181 1295.8 181.3 1296.4C181.9 1297.5 182.4 1299.9 183 1301.6C183.6 1303.4 184.2 1305.4 184.8 1306.9C185.4 1308.3 185.9 1309.7 186.5 1310.6C187 1311.4 187.5 1311.9 188 1312.2C188.4 1312.4 188.8 1312.5 189.2 1312.5C189.9 1312.5 190.5 1311.9 191.2 1311.6C191.8 1311.3 192.5 1310.6 193.1 1310.6C193.6 1310.6 194.1 1310.9 194.6 1311.3C195.1 1311.7 195.7 1312.3 196.2 1313C197.1 1314.2 197.9 1316.2 198.8 1317.8C199.7 1319.4 200.5 1321.2 201.4 1322.7C202.3 1324.2 203.1 1325.4 204 1326.5C204.9 1327.6 205.8 1328.5 206.7 1329.1C207.9 1329.9 209 1330 210.2 1330.3C212.5 1330.8 214.9 1330.6 217.2 1330.1C218.9 1329.8 220.6 1328.9 222.3 1328.5C224 1328.1 225.7 1327.9 227.4 1327.9C229.1 1327.9 230.9 1328.5 232.6 1328.7C234.3 1328.9 236 1329.1 237.7 1329.1C239.7 1329.1 241.8 1328.5 243.8 1328.3C245.5 1328.1 247.2 1327.8 248.9 1327.9C250.6 1328 252.3 1328.6 254 1328.9C256 1329.3 258.1 1329.8 260.1 1330.1C262.8 1330.5 265.6 1330.6 268.3 1330.8C271 1331 273.8 1331.2 276.5 1331.2C279.2 1331.2 282 1330.8 284.7 1330.8C287.4 1330.8 290.1 1331 292.8 1331.2C294.6 1331.4 296.4 1331.7 298.2 1331.8C299.9 1331.9 301.6 1331.7 303.3 1331.7C305 1331.7 306.7 1331.7 308.4 1331.6C310.1 1331.5 311.8 1331.3 313.5 1331.2C315.2 1331.1 316.9 1331 318.6 1330.8C321.3 1330.5 324.1 1329.9 326.8 1329.5C328.8 1329.2 330.9 1328.6 332.9 1328.7C334.9 1328.8 337 1329.6 339 1330.1C341.7 1330.7 344.5 1331.8 347.2 1332C349.9 1332.2 352.7 1331.5 355.4 1331.2C358.5 1330.9 361.5 1330.3 364.6 1330.3C367 1330.3 369.3 1330.7 371.7 1331C374.4 1331.3 377.2 1332.2 379.9 1332C381.9 1331.8 384 1331.1 386 1330.6C388.1 1330.1 390.1 1329.4 392.2 1329.1C394.6 1328.7 396.9 1328.7 399.3 1328.5C401.4 1328.3 403.4 1327.8 405.5 1328.1C407.2 1328.3 408.9 1329.1 410.6 1329.5C412.3 1329.9 414 1330.3 415.7 1330.3C417.7 1330.4 419.8 1329.9 421.8 1329.5C423.2 1329.2 424.7 1328.8 426.1 1328.5C428.2 1328.1 430.2 1327.6 432.3 1327.3C434.7 1326.9 437 1326.4 439.4 1326.5C441.8 1326.6 444.2 1327.6 446.6 1328.1C448.6 1328.6 450.7 1329.2 452.7 1329.5C455.1 1329.9 457.5 1330.1 459.9 1330.1C462.3 1330.1 464.6 1329.5 467 1329.3C468.7 1329.1 470.4 1328.8 472.1 1328.9C474.1 1329 476.2 1329.7 478.2 1330.1C479.9 1330.4 481.7 1331 483.4 1331C485.4 1331.1 487.5 1330 489.5 1330.1C491.5 1330.2 493.6 1331.1 495.6 1331.6C498.3 1332.3 501.1 1333.7 503.8 1333.6C505.8 1333.5 507.9 1332.6 509.9 1332.2C511.6 1331.9 513.3 1331.4 515 1331.4C516.7 1331.4 518.4 1332 520.1 1332.2C522.2 1332.5 524.2 1333.3 526.3 1333C528 1332.8 529.7 1331.8 531.4 1331.2C533.1 1330.7 534.8 1329.8 536.5 1329.7C538.5 1329.5 540.6 1330.5 542.6 1330.8C545 1331.2 547.4 1331.8 549.8 1331.8C551.8 1331.8 553.9 1331.7 555.9 1331C556.9 1330.6 558 1330.3 559 1329.5C559.8 1328.9 560.6 1328.1 561.4 1327.1C562.4 1325.8 563.4 1324 564.4 1322C565.4 1319.9 566.5 1317.2 567.5 1314.8C568.5 1312.5 569.5 1309.6 570.5 1307.7C571.5 1305.7 572.6 1304.2 573.6 1303.2C574.1 1302.8 574.5 1302.4 575 1302.2C575.4 1302 575.9 1301.9 576.3 1301.9C576.8 1301.9 577.2 1302.1 577.7 1302.4C578.2 1302.8 578.8 1303.4 579.3 1304C580.5 1305.3 581.6 1307.1 582.8 1308.7C584.2 1310.6 585.5 1312.5 586.9 1314.4C588.3 1316.3 589.6 1318.1 591 1319.9C592.4 1321.7 593.7 1323.5 595.1 1325C596.5 1326.5 597.8 1328 599.2 1329.1C600.5 1330.2 601.9 1331 603.2 1331.6C604.9 1332.4 606.7 1332.4 608.4 1332.6C610.3 1332.8 612.3 1332.6 614.2 1332.6C616.1 1332.6 618.1 1332.6 620 1332.6C621.7 1332.6 623.4 1332.6 625 1332.6C626.7 1332.6 628.4 1332.6 630.1 1332.6C631.8 1332.6 633.4 1332.6 635.1 1332.6C636.8 1332.6 638.5 1332.6 640.2 1332.6C641.8 1332.6 643.5 1332.6 645.2 1332.6C646.9 1332.6 648.6 1332.6 650.2 1332.6C651.9 1332.6 653.6 1332.6 655.3 1332.6C657 1332.6 658.6 1332.6 660.3 1332.6C662 1332.6 663.7 1332.6 665.4 1332.6C667 1332.6 668.7 1332.6 670.4 1332.6"/>
</g>
<rect x="110.8" y="1002.5" width="559.6" height="371.4" rx="0.3" fill="none" stroke="#2c2c2c" stroke-width="1.35"/>
<text class="tk" transform="translate(97.4 1341) scale(0.96 1)" text-anchor="end">0</text>
<text class="tk" transform="translate(97.4 1258.6) scale(0.96 1)" text-anchor="end">2</text>
<text class="tk" transform="translate(97.4 1176.2) scale(0.96 1)" text-anchor="end">4</text>
<text class="tk" transform="translate(97.4 1093.8) scale(0.96 1)" text-anchor="end">6</text>
<text class="tk" transform="translate(97.4 1011.4) scale(0.96 1)" text-anchor="end">8</text>
<text class="tk" transform="translate(111 1404.5) scale(0.96 1)" text-anchor="middle">-5</text>
<text class="tk" transform="translate(176.3 1404.5) scale(0.96 1)" text-anchor="middle">0</text>
<text class="tk" transform="translate(238.4 1404.5) scale(0.96 1)" text-anchor="middle">5</text>
<text class="tk" transform="translate(300.5 1404.5) scale(0.96 1)" text-anchor="middle">10</text>
<text class="tk" transform="translate(362.6 1404.5) scale(0.96 1)" text-anchor="middle">15</text>
<text class="tk" transform="translate(424.7 1404.5) scale(0.96 1)" text-anchor="middle">20</text>
<text class="tk" transform="translate(486.8 1404.5) scale(0.96 1)" text-anchor="middle">25</text>
<text class="tk" transform="translate(548.9 1404.5) scale(0.96 1)" text-anchor="middle">30</text>
<text class="tk" transform="translate(611 1404.5) scale(0.96 1)" text-anchor="middle">35</text>
<text class="tk" transform="translate(673.2 1404.5) scale(0.96 1)" text-anchor="middle">40</text>
<text class="ax" transform="translate(390.8 1437.8) scale(0.962 1)" text-anchor="middle">Frequency (THz)</text>
<text class="ax" transform="translate(29.5 1188.5) rotate(-90) scale(0.967 1)" text-anchor="middle">Spectral layer thermal conductivity</text>
<text class="ax" transform="translate(57.6 1187) rotate(-90) scale(0.972 1)" text-anchor="middle">(W/mK•THz)</text>
<text class="tt" transform="translate(641.6 1042.8) scale(0.97 1)" text-anchor="end"><tspan font-style="italic">Z</tspan><tspan dx="0.4"> direction</tspan></text>
<line x1="459.2" y1="1093.6" x2="519.9" y2="1093.6" stroke="#000" stroke-width="2.2"/>
<line x1="459.2" y1="1127.6" x2="519.9" y2="1127.6" stroke="#0000f5" stroke-width="2.2"/>
<line x1="459.2" y1="1161.7" x2="519.9" y2="1161.7" stroke="#ff4608" stroke-width="2.2"/>
<text class="lg" x="533.2" y="1099.7">NaCoO<tspan class="sb" dy="6.3">2</tspan></text>
<text class="lg" x="533.2" y="1133.7">Na<tspan class="sb" dy="6.3">0.5</tspan><tspan dy="-6.3">CoO</tspan><tspan class="sb" dy="6.3">2</tspan></text>
<text class="lg" x="533.2" y="1167.8">Ca<tspan class="sb" dy="6.3">3</tspan><tspan dy="-6.3">Co</tspan><tspan class="sb" dy="6.3">4</tspan><tspan dy="-6.3">O</tspan><tspan class="sb" dy="6.3">9</tspan></text>
<text class="pl" x="-1.2" y="982.6">c</text>
</g>
</svg>
</body></html>
